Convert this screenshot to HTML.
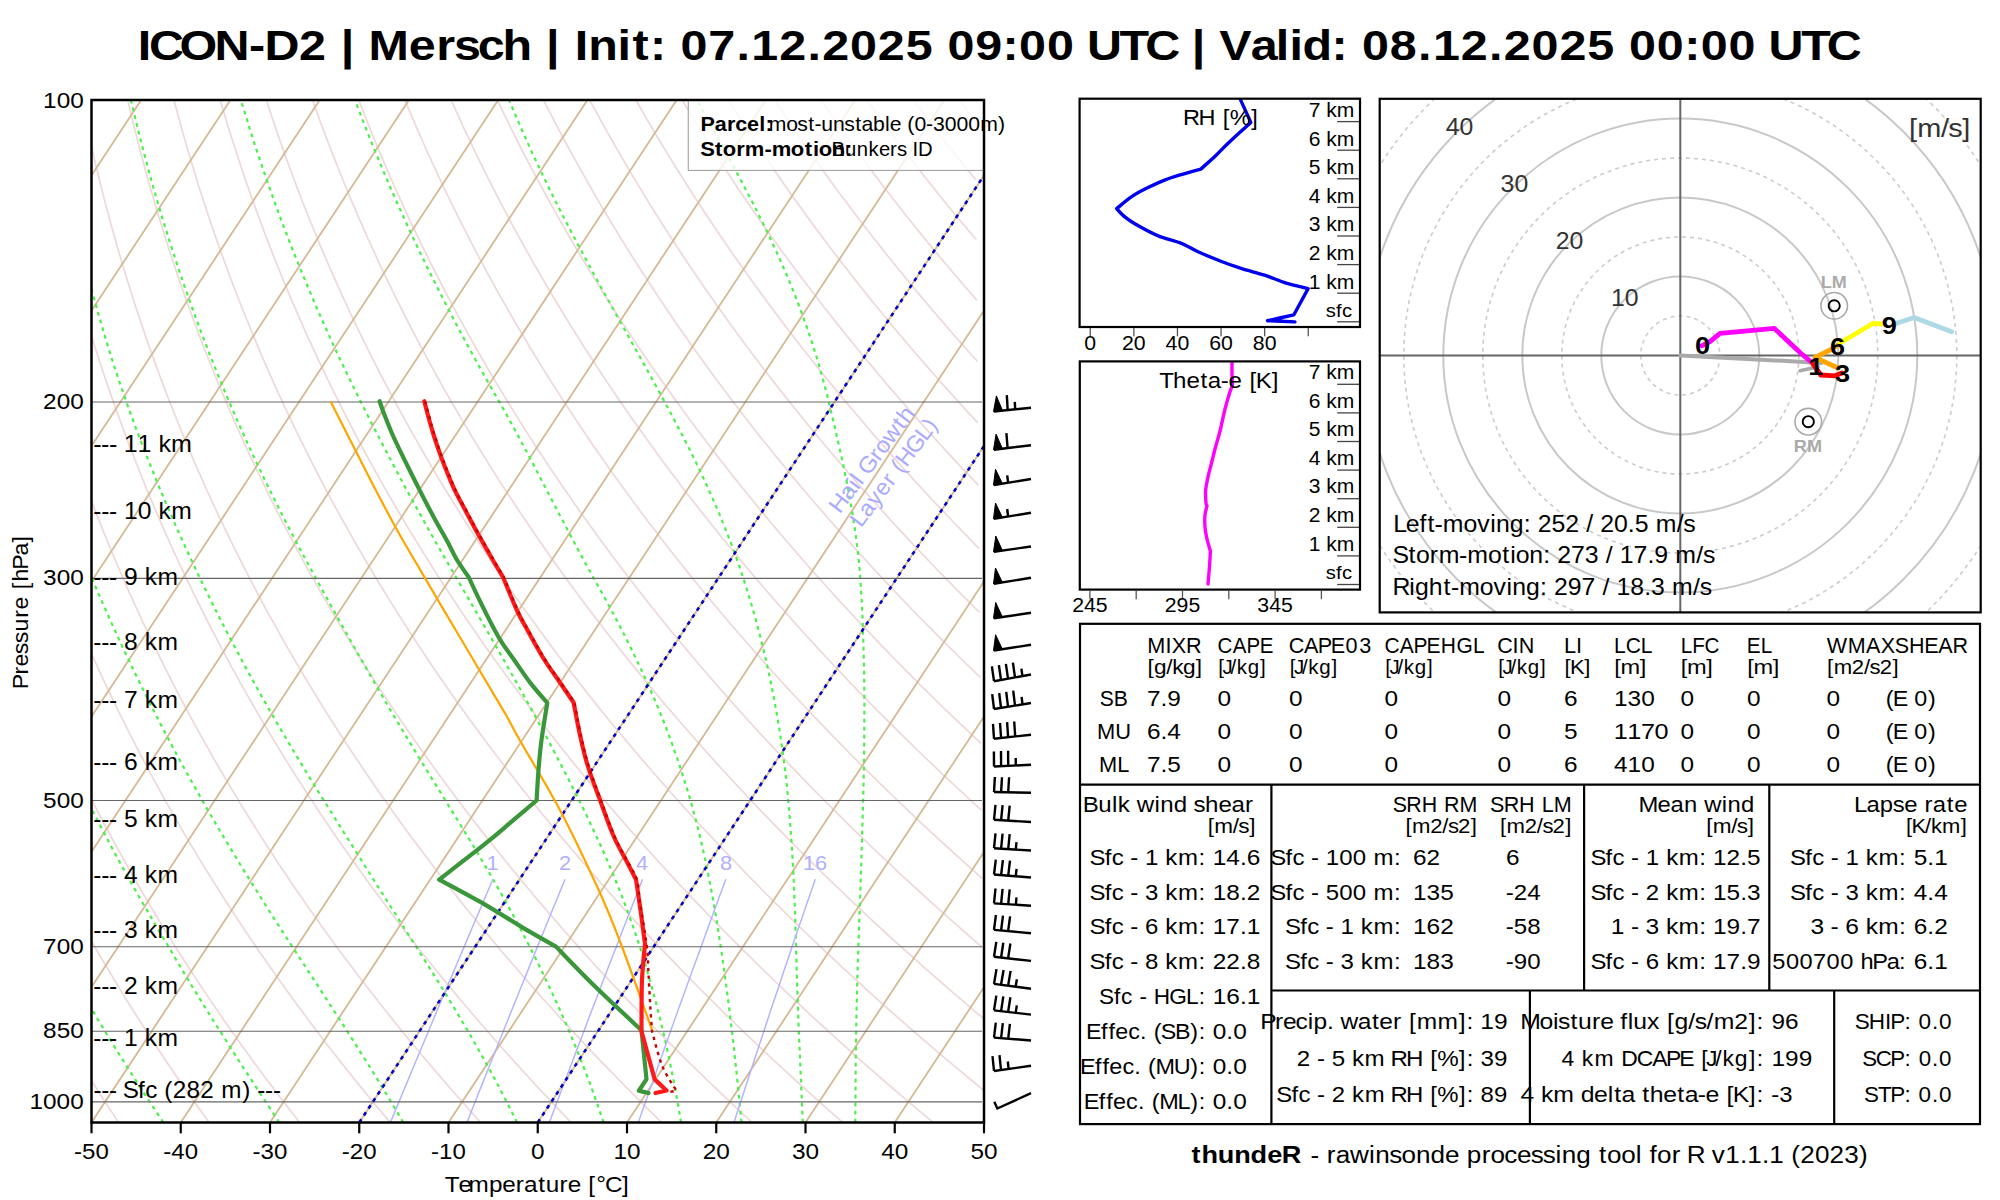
<!DOCTYPE html>
<html><head><meta charset="utf-8"><title>thundeR sounding</title><style>
html,body{margin:0;padding:0;background:#fff;overflow:hidden;}
svg{display:block;}
text{font-family:"Liberation Sans",sans-serif;}
</style></head><body>
<svg width="2000" height="1200" viewBox="0 0 2000 1200">
<rect width="2000" height="1200" fill="#fff"/>
<defs><clipPath id="cp"><rect x="91.5" y="100.0" width="892.5" height="1022.5"/></clipPath></defs>
<g clip-path="url(#cp)"><polyline points="118.7,1122.5 113.0,1113.9 107.3,1105.3 101.7,1096.7 96.2,1088.1 90.8,1079.5 85.4,1070.9 80.0,1062.4 74.8,1053.8 69.5,1045.2 64.4,1036.6 59.3,1028.0 54.3,1019.4 49.3,1010.8 44.4,1002.2 39.6,993.6 34.8,985.0 30.0,976.4 25.4,967.8 20.8,959.2 16.2,950.7 11.7,942.1 7.3,933.5 2.9,924.9 -1.4,916.3 -5.7,907.7 -9.9,899.1 -14.1,890.5 -18.2,881.9 -22.2,873.3 -26.2,864.7 -30.2,856.1 -34.1,847.5 -37.9,838.9 -41.7,830.4 -45.4,821.8 -49.1,813.2 -52.7,804.6 -56.2,796.0 -59.8,787.4 -63.2,778.8 -66.6,770.2 -70.0,761.6 -73.3,753.0 -76.6,744.4 -79.8,735.8 -82.9,727.2 -86.0,718.7 -89.1,710.1 -92.1,701.5 -95.1,692.9 -98.0,684.3 -100.8,675.7 -103.6,667.1 -106.4,658.5 -109.1,649.9 -111.8,641.3 -114.4,632.7 -117.0,624.1 -119.5,615.5 -122.0,607.0 -124.5,598.4 -126.9,589.8 -129.2,581.2 -131.5,572.6 -133.8,564.0 -136.0,555.4 -138.2,546.8 -140.3,538.2 -142.4,529.6 -144.4,521.0 -146.4,512.4 -148.4,503.8 -150.3,495.3 -152.1,486.7 -154.0,478.1 -155.7,469.5 -157.5,460.9 -159.2,452.3 -160.8,443.7 -162.5,435.1 -164.0,426.5 -165.6,417.9 -167.1,409.3 -168.5,400.7 -169.9,392.1 -171.3,383.6 -172.6,375.0 -173.9,366.4 -175.2,357.8 -176.4,349.2 -177.6,340.6 -178.7,332.0 -179.8,323.4 -180.9,314.8 -181.9,306.2 -182.9,297.6 -183.8,289.0 -184.7,280.4 -185.6,271.8 -186.4,263.3 -187.2,254.7 -188.0,246.1 -188.7,237.5 -189.4,228.9 -190.1,220.3 -190.7,211.7 -191.3,203.1 -191.8,194.5 -192.3,185.9 -192.8,177.3 -193.3,168.7 -193.7,160.1 -194.1,151.6 -194.4,143.0 -194.7,134.4 -195.0,125.8 -195.2,117.2 -195.4,108.6 -195.6,100.0" fill="none" stroke="#EED8D8" stroke-width="1.7"/>
<polyline points="209.2,1122.5 203.0,1113.9 196.8,1105.3 190.7,1096.7 184.7,1088.1 178.7,1079.5 172.8,1070.9 167.0,1062.4 161.3,1053.8 155.6,1045.2 149.9,1036.6 144.4,1028.0 138.8,1019.4 133.4,1010.8 128.0,1002.2 122.7,993.6 117.4,985.0 112.3,976.4 107.1,967.8 102.0,959.2 97.0,950.7 92.1,942.1 87.2,933.5 82.4,924.9 77.6,916.3 72.9,907.7 68.2,899.1 63.6,890.5 59.1,881.9 54.6,873.3 50.2,864.7 45.8,856.1 41.5,847.5 37.2,838.9 33.0,830.4 28.9,821.8 24.8,813.2 20.8,804.6 16.8,796.0 12.8,787.4 9.0,778.8 5.2,770.2 1.4,761.6 -2.3,753.0 -6.0,744.4 -9.6,735.8 -13.1,727.2 -16.6,718.7 -20.1,710.1 -23.5,701.5 -26.8,692.9 -30.1,684.3 -33.4,675.7 -36.6,667.1 -39.7,658.5 -42.8,649.9 -45.9,641.3 -48.9,632.7 -51.8,624.1 -54.7,615.5 -57.6,607.0 -60.4,598.4 -63.1,589.8 -65.8,581.2 -68.5,572.6 -71.1,564.0 -73.7,555.4 -76.2,546.8 -78.7,538.2 -81.1,529.6 -83.5,521.0 -85.8,512.4 -88.1,503.8 -90.4,495.3 -92.6,486.7 -94.7,478.1 -96.8,469.5 -98.9,460.9 -100.9,452.3 -102.9,443.7 -104.9,435.1 -106.8,426.5 -108.6,417.9 -110.4,409.3 -112.2,400.7 -113.9,392.1 -115.6,383.6 -117.3,375.0 -118.9,366.4 -120.4,357.8 -122.0,349.2 -123.4,340.6 -124.9,332.0 -126.3,323.4 -127.7,314.8 -129.0,306.2 -130.3,297.6 -131.5,289.0 -132.7,280.4 -133.9,271.8 -135.0,263.3 -136.1,254.7 -137.1,246.1 -138.2,237.5 -139.1,228.9 -140.1,220.3 -141.0,211.7 -141.8,203.1 -142.7,194.5 -143.5,185.9 -144.2,177.3 -144.9,168.7 -145.6,160.1 -146.3,151.6 -146.9,143.0 -147.4,134.4 -148.0,125.8 -148.5,117.2 -149.0,108.6 -149.4,100.0" fill="none" stroke="#EED8D8" stroke-width="1.7"/>
<polyline points="299.7,1122.5 293.0,1113.9 286.3,1105.3 279.7,1096.7 273.2,1088.1 266.7,1079.5 260.3,1070.9 254.0,1062.4 247.8,1053.8 241.6,1045.2 235.5,1036.6 229.4,1028.0 223.4,1019.4 217.5,1010.8 211.6,1002.2 205.9,993.6 200.1,985.0 194.5,976.4 188.9,967.8 183.3,959.2 177.9,950.7 172.5,942.1 167.1,933.5 161.8,924.9 156.6,916.3 151.4,907.7 146.3,899.1 141.3,890.5 136.3,881.9 131.4,873.3 126.6,864.7 121.8,856.1 117.0,847.5 112.3,838.9 107.7,830.4 103.1,821.8 98.6,813.2 94.2,804.6 89.8,796.0 85.4,787.4 81.2,778.8 76.9,770.2 72.8,761.6 68.7,753.0 64.6,744.4 60.6,735.8 56.7,727.2 52.8,718.7 48.9,710.1 45.1,701.5 41.4,692.9 37.7,684.3 34.1,675.7 30.5,667.1 27.0,658.5 23.5,649.9 20.1,641.3 16.7,632.7 13.4,624.1 10.1,615.5 6.9,607.0 3.8,598.4 0.6,589.8 -2.4,581.2 -5.4,572.6 -8.4,564.0 -11.3,555.4 -14.2,546.8 -17.0,538.2 -19.8,529.6 -22.5,521.0 -25.2,512.4 -27.9,503.8 -30.4,495.3 -33.0,486.7 -35.5,478.1 -37.9,469.5 -40.3,460.9 -42.7,452.3 -45.0,443.7 -47.3,435.1 -49.5,426.5 -51.7,417.9 -53.8,409.3 -55.9,400.7 -58.0,392.1 -60.0,383.6 -61.9,375.0 -63.8,366.4 -65.7,357.8 -67.5,349.2 -69.3,340.6 -71.1,332.0 -72.8,323.4 -74.4,314.8 -76.1,306.2 -77.6,297.6 -79.2,289.0 -80.7,280.4 -82.1,271.8 -83.6,263.3 -84.9,254.7 -86.3,246.1 -87.6,237.5 -88.9,228.9 -90.1,220.3 -91.3,211.7 -92.4,203.1 -93.5,194.5 -94.6,185.9 -95.6,177.3 -96.6,168.7 -97.6,160.1 -98.5,151.6 -99.4,143.0 -100.2,134.4 -101.0,125.8 -101.8,117.2 -102.5,108.6 -103.2,100.0" fill="none" stroke="#EED8D8" stroke-width="1.7"/>
<polyline points="390.2,1122.5 383.0,1113.9 375.8,1105.3 368.7,1096.7 361.7,1088.1 354.7,1079.5 347.8,1070.9 341.0,1062.4 334.3,1053.8 327.6,1045.2 321.0,1036.6 314.5,1028.0 308.0,1019.4 301.6,1010.8 295.3,1002.2 289.0,993.6 282.8,985.0 276.7,976.4 270.6,967.8 264.6,959.2 258.7,950.7 252.8,942.1 247.0,933.5 241.3,924.9 235.6,916.3 230.0,907.7 224.5,899.1 219.0,890.5 213.6,881.9 208.2,873.3 202.9,864.7 197.7,856.1 192.5,847.5 187.4,838.9 182.4,830.4 177.4,821.8 172.5,813.2 167.6,804.6 162.8,796.0 158.1,787.4 153.4,778.8 148.7,770.2 144.2,761.6 139.6,753.0 135.2,744.4 130.8,735.8 126.4,727.2 122.2,718.7 117.9,710.1 113.7,701.5 109.6,692.9 105.6,684.3 101.5,675.7 97.6,667.1 93.7,658.5 89.8,649.9 86.0,641.3 82.3,632.7 78.6,624.1 75.0,615.5 71.4,607.0 67.9,598.4 64.4,589.8 61.0,581.2 57.6,572.6 54.3,564.0 51.0,555.4 47.8,546.8 44.6,538.2 41.5,529.6 38.4,521.0 35.4,512.4 32.4,503.8 29.5,495.3 26.6,486.7 23.8,478.1 21.0,469.5 18.2,460.9 15.5,452.3 12.9,443.7 10.3,435.1 7.8,426.5 5.3,417.9 2.8,409.3 0.4,400.7 -2.0,392.1 -4.3,383.6 -6.6,375.0 -8.8,366.4 -11.0,357.8 -13.1,349.2 -15.2,340.6 -17.3,332.0 -19.3,323.4 -21.2,314.8 -23.2,306.2 -25.0,297.6 -26.9,289.0 -28.7,280.4 -30.4,271.8 -32.1,263.3 -33.8,254.7 -35.4,246.1 -37.0,237.5 -38.6,228.9 -40.1,220.3 -41.5,211.7 -43.0,203.1 -44.3,194.5 -45.7,185.9 -47.0,177.3 -48.3,168.7 -49.5,160.1 -50.7,151.6 -51.8,143.0 -52.9,134.4 -54.0,125.8 -55.1,117.2 -56.1,108.6 -57.0,100.0" fill="none" stroke="#EED8D8" stroke-width="1.7"/>
<polyline points="480.7,1122.5 472.9,1113.9 465.3,1105.3 457.7,1096.7 450.1,1088.1 442.7,1079.5 435.3,1070.9 428.0,1062.4 420.8,1053.8 413.6,1045.2 406.5,1036.6 399.5,1028.0 392.6,1019.4 385.7,1010.8 378.9,1002.2 372.2,993.6 365.5,985.0 358.9,976.4 352.4,967.8 345.9,959.2 339.5,950.7 333.2,942.1 327.0,933.5 320.8,924.9 314.7,916.3 308.6,907.7 302.6,899.1 296.7,890.5 290.8,881.9 285.1,873.3 279.3,864.7 273.7,856.1 268.1,847.5 262.5,838.9 257.1,830.4 251.7,821.8 246.3,813.2 241.0,804.6 235.8,796.0 230.7,787.4 225.6,778.8 220.5,770.2 215.5,761.6 210.6,753.0 205.8,744.4 201.0,735.8 196.2,727.2 191.5,718.7 186.9,710.1 182.4,701.5 177.8,692.9 173.4,684.3 169.0,675.7 164.7,667.1 160.4,658.5 156.2,649.9 152.0,641.3 147.9,632.7 143.8,624.1 139.8,615.5 135.9,607.0 132.0,598.4 128.1,589.8 124.4,581.2 120.6,572.6 116.9,564.0 113.3,555.4 109.7,546.8 106.2,538.2 102.7,529.6 99.3,521.0 96.0,512.4 92.6,503.8 89.4,495.3 86.2,486.7 83.0,478.1 79.9,469.5 76.8,460.9 73.8,452.3 70.8,443.7 67.9,435.1 65.0,426.5 62.2,417.9 59.4,409.3 56.7,400.7 54.0,392.1 51.4,383.6 48.8,375.0 46.3,366.4 43.8,357.8 41.3,349.2 38.9,340.6 36.5,332.0 34.2,323.4 32.0,314.8 29.7,306.2 27.6,297.6 25.4,289.0 23.3,280.4 21.3,271.8 19.3,263.3 17.3,254.7 15.4,246.1 13.5,237.5 11.7,228.9 9.9,220.3 8.2,211.7 6.5,203.1 4.8,194.5 3.2,185.9 1.6,177.3 0.1,168.7 -1.4,160.1 -2.9,151.6 -4.3,143.0 -5.7,134.4 -7.0,125.8 -8.3,117.2 -9.6,108.6 -10.8,100.0" fill="none" stroke="#EED8D8" stroke-width="1.7"/>
<polyline points="571.2,1122.5 562.9,1113.9 554.8,1105.3 546.7,1096.7 538.6,1088.1 530.7,1079.5 522.8,1070.9 515.0,1062.4 507.3,1053.8 499.6,1045.2 492.1,1036.6 484.6,1028.0 477.1,1019.4 469.8,1010.8 462.5,1002.2 455.3,993.6 448.2,985.0 441.1,976.4 434.1,967.8 427.2,959.2 420.4,950.7 413.6,942.1 406.9,933.5 400.2,924.9 393.7,916.3 387.2,907.7 380.8,899.1 374.4,890.5 368.1,881.9 361.9,873.3 355.7,864.7 349.6,856.1 343.6,847.5 337.6,838.9 331.8,830.4 325.9,821.8 320.2,813.2 314.5,804.6 308.8,796.0 303.3,787.4 297.7,778.8 292.3,770.2 286.9,761.6 281.6,753.0 276.3,744.4 271.1,735.8 266.0,727.2 260.9,718.7 255.9,710.1 251.0,701.5 246.1,692.9 241.2,684.3 236.5,675.7 231.7,667.1 227.1,658.5 222.5,649.9 218.0,641.3 213.5,632.7 209.0,624.1 204.7,615.5 200.4,607.0 196.1,598.4 191.9,589.8 187.8,581.2 183.7,572.6 179.6,564.0 175.6,555.4 171.7,546.8 167.8,538.2 164.0,529.6 160.3,521.0 156.5,512.4 152.9,503.8 149.3,495.3 145.7,486.7 142.2,478.1 138.8,469.5 135.4,460.9 132.0,452.3 128.7,443.7 125.5,435.1 122.3,426.5 119.1,417.9 116.0,409.3 113.0,400.7 110.0,392.1 107.0,383.6 104.1,375.0 101.3,366.4 98.5,357.8 95.7,349.2 93.0,340.6 90.4,332.0 87.7,323.4 85.2,314.8 82.7,306.2 80.2,297.6 77.7,289.0 75.4,280.4 73.0,271.8 70.7,263.3 68.5,254.7 66.3,246.1 64.1,237.5 62.0,228.9 59.9,220.3 57.9,211.7 55.9,203.1 54.0,194.5 52.1,185.9 50.2,177.3 48.4,168.7 46.6,160.1 44.9,151.6 43.2,143.0 41.6,134.4 40.0,125.8 38.4,117.2 36.9,108.6 35.4,100.0" fill="none" stroke="#EED8D8" stroke-width="1.7"/>
<polyline points="661.7,1122.5 652.9,1113.9 644.2,1105.3 635.6,1096.7 627.1,1088.1 618.7,1079.5 610.3,1070.9 602.0,1062.4 593.8,1053.8 585.6,1045.2 577.6,1036.6 569.6,1028.0 561.7,1019.4 553.9,1010.8 546.1,1002.2 538.4,993.6 530.8,985.0 523.3,976.4 515.9,967.8 508.5,959.2 501.2,950.7 494.0,942.1 486.8,933.5 479.7,924.9 472.7,916.3 465.8,907.7 458.9,899.1 452.1,890.5 445.4,881.9 438.7,873.3 432.1,864.7 425.6,856.1 419.1,847.5 412.8,838.9 406.4,830.4 400.2,821.8 394.0,813.2 387.9,804.6 381.8,796.0 375.9,787.4 369.9,778.8 364.1,770.2 358.3,761.6 352.6,753.0 346.9,744.4 341.3,735.8 335.8,727.2 330.3,718.7 324.9,710.1 319.6,701.5 314.3,692.9 309.1,684.3 303.9,675.7 298.8,667.1 293.8,658.5 288.8,649.9 283.9,641.3 279.0,632.7 274.3,624.1 269.5,615.5 264.8,607.0 260.2,598.4 255.7,589.8 251.1,581.2 246.7,572.6 242.3,564.0 238.0,555.4 233.7,546.8 229.5,538.2 225.3,529.6 221.2,521.0 217.1,512.4 213.1,503.8 209.2,495.3 205.3,486.7 201.5,478.1 197.7,469.5 193.9,460.9 190.3,452.3 186.6,443.7 183.1,435.1 179.6,426.5 176.1,417.9 172.7,409.3 169.3,400.7 166.0,392.1 162.7,383.6 159.5,375.0 156.3,366.4 153.2,357.8 150.2,349.2 147.1,340.6 144.2,332.0 141.3,323.4 138.4,314.8 135.6,306.2 132.8,297.6 130.1,289.0 127.4,280.4 124.7,271.8 122.2,263.3 119.6,254.7 117.1,246.1 114.7,237.5 112.3,228.9 109.9,220.3 107.6,211.7 105.3,203.1 103.1,194.5 101.0,185.9 98.8,177.3 96.7,168.7 94.7,160.1 92.7,151.6 90.7,143.0 88.8,134.4 86.9,125.8 85.1,117.2 83.3,108.6 81.6,100.0" fill="none" stroke="#EED8D8" stroke-width="1.7"/>
<polyline points="752.2,1122.5 742.9,1113.9 733.7,1105.3 724.6,1096.7 715.6,1088.1 706.6,1079.5 697.8,1070.9 689.0,1062.4 680.3,1053.8 671.7,1045.2 663.1,1036.6 654.7,1028.0 646.3,1019.4 638.0,1010.8 629.7,1002.2 621.6,993.6 613.5,985.0 605.5,976.4 597.6,967.8 589.8,959.2 582.0,950.7 574.3,942.1 566.7,933.5 559.2,924.9 551.7,916.3 544.3,907.7 537.0,899.1 529.8,890.5 522.6,881.9 515.5,873.3 508.5,864.7 501.6,856.1 494.7,847.5 487.9,838.9 481.1,830.4 474.5,821.8 467.8,813.2 461.3,804.6 454.9,796.0 448.5,787.4 442.1,778.8 435.9,770.2 429.7,761.6 423.6,753.0 417.5,744.4 411.5,735.8 405.6,727.2 399.7,718.7 393.9,710.1 388.2,701.5 382.5,692.9 376.9,684.3 371.4,675.7 365.9,667.1 360.5,658.5 355.1,649.9 349.9,641.3 344.6,632.7 339.5,624.1 334.4,615.5 329.3,607.0 324.3,598.4 319.4,589.8 314.5,581.2 309.7,572.6 305.0,564.0 300.3,555.4 295.7,546.8 291.1,538.2 286.6,529.6 282.1,521.0 277.7,512.4 273.4,503.8 269.1,495.3 264.9,486.7 260.7,478.1 256.6,469.5 252.5,460.9 248.5,452.3 244.6,443.7 240.7,435.1 236.8,426.5 233.0,417.9 229.3,409.3 225.6,400.7 222.0,392.1 218.4,383.6 214.9,375.0 211.4,366.4 208.0,357.8 204.6,349.2 201.3,340.6 198.0,332.0 194.8,323.4 191.6,314.8 188.5,306.2 185.4,297.6 182.4,289.0 179.4,280.4 176.5,271.8 173.6,263.3 170.8,254.7 168.0,246.1 165.3,237.5 162.6,228.9 159.9,220.3 157.3,211.7 154.8,203.1 152.3,194.5 149.8,185.9 147.4,177.3 145.1,168.7 142.7,160.1 140.5,151.6 138.2,143.0 136.1,134.4 133.9,125.8 131.8,117.2 129.8,108.6 127.8,100.0" fill="none" stroke="#EED8D8" stroke-width="1.7"/>
<polyline points="842.7,1122.5 832.9,1113.9 823.2,1105.3 813.6,1096.7 804.1,1088.1 794.6,1079.5 785.3,1070.9 776.0,1062.4 766.8,1053.8 757.7,1045.2 748.6,1036.6 739.7,1028.0 730.8,1019.4 722.1,1010.8 713.4,1002.2 704.7,993.6 696.2,985.0 687.8,976.4 679.4,967.8 671.1,959.2 662.9,950.7 654.7,942.1 646.7,933.5 638.7,924.9 630.8,916.3 622.9,907.7 615.2,899.1 607.5,890.5 599.9,881.9 592.4,873.3 584.9,864.7 577.5,856.1 570.2,847.5 563.0,838.9 555.8,830.4 548.7,821.8 541.7,813.2 534.7,804.6 527.9,796.0 521.1,787.4 514.3,778.8 507.7,770.2 501.1,761.6 494.5,753.0 488.1,744.4 481.7,735.8 475.4,727.2 469.1,718.7 462.9,710.1 456.8,701.5 450.8,692.9 444.8,684.3 438.8,675.7 433.0,667.1 427.2,658.5 421.5,649.9 415.8,641.3 410.2,632.7 404.7,624.1 399.2,615.5 393.8,607.0 388.4,598.4 383.2,589.8 377.9,581.2 372.8,572.6 367.7,564.0 362.6,555.4 357.6,546.8 352.7,538.2 347.9,529.6 343.1,521.0 338.3,512.4 333.6,503.8 329.0,495.3 324.4,486.7 319.9,478.1 315.5,469.5 311.1,460.9 306.8,452.3 302.5,443.7 298.2,435.1 294.1,426.5 290.0,417.9 285.9,409.3 281.9,400.7 277.9,392.1 274.0,383.6 270.2,375.0 266.4,366.4 262.7,357.8 259.0,349.2 255.4,340.6 251.8,332.0 248.3,323.4 244.8,314.8 241.4,306.2 238.0,297.6 234.7,289.0 231.4,280.4 228.2,271.8 225.0,263.3 221.9,254.7 218.8,246.1 215.8,237.5 212.8,228.9 209.9,220.3 207.1,211.7 204.2,203.1 201.4,194.5 198.7,185.9 196.0,177.3 193.4,168.7 190.8,160.1 188.3,151.6 185.8,143.0 183.3,134.4 180.9,125.8 178.6,117.2 176.2,108.6 174.0,100.0" fill="none" stroke="#EED8D8" stroke-width="1.7"/>
<polyline points="933.2,1122.5 922.9,1113.9 912.7,1105.3 902.6,1096.7 892.5,1088.1 882.6,1079.5 872.7,1070.9 863.0,1062.4 853.3,1053.8 843.7,1045.2 834.2,1036.6 824.8,1028.0 815.4,1019.4 806.2,1010.8 797.0,1002.2 787.9,993.6 778.9,985.0 770.0,976.4 761.1,967.8 752.4,959.2 743.7,950.7 735.1,942.1 726.6,933.5 718.1,924.9 709.8,916.3 701.5,907.7 693.3,899.1 685.2,890.5 677.1,881.9 669.2,873.3 661.3,864.7 653.5,856.1 645.7,847.5 638.1,838.9 630.5,830.4 623.0,821.8 615.5,813.2 608.2,804.6 600.9,796.0 593.7,787.4 586.5,778.8 579.5,770.2 572.4,761.6 565.5,753.0 558.7,744.4 551.9,735.8 545.2,727.2 538.5,718.7 531.9,710.1 525.4,701.5 519.0,692.9 512.6,684.3 506.3,675.7 500.1,667.1 493.9,658.5 487.8,649.9 481.8,641.3 475.8,632.7 469.9,624.1 464.0,615.5 458.3,607.0 452.6,598.4 446.9,589.8 441.3,581.2 435.8,572.6 430.4,564.0 425.0,555.4 419.6,546.8 414.4,538.2 409.1,529.6 404.0,521.0 398.9,512.4 393.9,503.8 388.9,495.3 384.0,486.7 379.2,478.1 374.4,469.5 369.7,460.9 365.0,452.3 360.4,443.7 355.8,435.1 351.3,426.5 346.9,417.9 342.5,409.3 338.2,400.7 333.9,392.1 329.7,383.6 325.6,375.0 321.5,366.4 317.4,357.8 313.4,349.2 309.5,340.6 305.6,332.0 301.8,323.4 298.0,314.8 294.3,306.2 290.6,297.6 287.0,289.0 283.4,280.4 279.9,271.8 276.5,263.3 273.1,254.7 269.7,246.1 266.4,237.5 263.1,228.9 259.9,220.3 256.8,211.7 253.7,203.1 250.6,194.5 247.6,185.9 244.6,177.3 241.7,168.7 238.9,160.1 236.1,151.6 233.3,143.0 230.6,134.4 227.9,125.8 225.3,117.2 222.7,108.6 220.2,100.0" fill="none" stroke="#EED8D8" stroke-width="1.7"/>
<polyline points="984.0,1090.6 981.0,1088.1 970.6,1079.5 960.2,1070.9 950.0,1062.4 939.8,1053.8 929.7,1045.2 919.7,1036.6 909.8,1028.0 900.0,1019.4 890.2,1010.8 880.6,1002.2 871.0,993.6 861.6,985.0 852.2,976.4 842.9,967.8 833.7,959.2 824.5,950.7 815.5,942.1 806.5,933.5 797.6,924.9 788.8,916.3 780.1,907.7 771.4,899.1 762.9,890.5 754.4,881.9 746.0,873.3 737.7,864.7 729.4,856.1 721.3,847.5 713.2,838.9 705.2,830.4 697.2,821.8 689.4,813.2 681.6,804.6 673.9,796.0 666.3,787.4 658.7,778.8 651.2,770.2 643.8,761.6 636.5,753.0 629.2,744.4 622.1,735.8 614.9,727.2 607.9,718.7 600.9,710.1 594.0,701.5 587.2,692.9 580.5,684.3 573.8,675.7 567.1,667.1 560.6,658.5 554.1,649.9 547.7,641.3 541.4,632.7 535.1,624.1 528.9,615.5 522.7,607.0 516.7,598.4 510.7,589.8 504.7,581.2 498.8,572.6 493.0,564.0 487.3,555.4 481.6,546.8 476.0,538.2 470.4,529.6 464.9,521.0 459.5,512.4 454.1,503.8 448.8,495.3 443.6,486.7 438.4,478.1 433.3,469.5 428.2,460.9 423.2,452.3 418.3,443.7 413.4,435.1 408.6,426.5 403.8,417.9 399.1,409.3 394.5,400.7 389.9,392.1 385.4,383.6 380.9,375.0 376.5,366.4 372.1,357.8 367.8,349.2 363.6,340.6 359.4,332.0 355.3,323.4 351.2,314.8 347.2,306.2 343.2,297.6 339.3,289.0 335.4,280.4 331.6,271.8 327.9,263.3 324.2,254.7 320.5,246.1 317.0,237.5 313.4,228.9 309.9,220.3 306.5,211.7 303.1,203.1 299.8,194.5 296.5,185.9 293.2,177.3 290.1,168.7 286.9,160.1 283.8,151.6 280.8,143.0 277.8,134.4 274.9,125.8 272.0,117.2 269.2,108.6 266.4,100.0" fill="none" stroke="#EED8D8" stroke-width="1.7"/>
<polyline points="983.4,1018.4 974.3,1010.8 964.2,1002.2 954.2,993.6 944.2,985.0 934.4,976.4 924.6,967.8 914.9,959.2 905.4,950.7 895.8,942.1 886.4,933.5 877.1,924.9 867.8,916.3 858.7,907.7 849.6,899.1 840.6,890.5 831.7,881.9 822.8,873.3 814.1,864.7 805.4,856.1 796.8,847.5 788.3,838.9 779.9,830.4 771.5,821.8 763.2,813.2 755.0,804.6 746.9,796.0 738.9,787.4 730.9,778.8 723.0,770.2 715.2,761.6 707.5,753.0 699.8,744.4 692.2,735.8 684.7,727.2 677.3,718.7 669.9,710.1 662.6,701.5 655.4,692.9 648.3,684.3 641.2,675.7 634.2,667.1 627.3,658.5 620.4,649.9 613.7,641.3 606.9,632.7 600.3,624.1 593.7,615.5 587.2,607.0 580.8,598.4 574.4,589.8 568.1,581.2 561.9,572.6 555.7,564.0 549.6,555.4 543.6,546.8 537.6,538.2 531.7,529.6 525.9,521.0 520.1,512.4 514.4,503.8 508.7,495.3 503.2,486.7 497.7,478.1 492.2,469.5 486.8,460.9 481.5,452.3 476.2,443.7 471.0,435.1 465.9,426.5 460.8,417.9 455.8,409.3 450.8,400.7 445.9,392.1 441.1,383.6 436.3,375.0 431.5,366.4 426.9,357.8 422.3,349.2 417.7,340.6 413.2,332.0 408.8,323.4 404.4,314.8 400.1,306.2 395.8,297.6 391.6,289.0 387.5,280.4 383.4,271.8 379.3,263.3 375.3,254.7 371.4,246.1 367.5,237.5 363.7,228.9 359.9,220.3 356.2,211.7 352.5,203.1 348.9,194.5 345.4,185.9 341.9,177.3 338.4,168.7 335.0,160.1 331.6,151.6 328.3,143.0 325.1,134.4 321.9,125.8 318.7,117.2 315.6,108.6 312.6,100.0" fill="none" stroke="#EED8D8" stroke-width="1.7"/>
<polyline points="982.7,947.7 976.2,942.1 966.3,933.5 956.6,924.9 946.9,916.3 937.2,907.7 927.7,899.1 918.3,890.5 908.9,881.9 899.6,873.3 890.5,864.7 881.4,856.1 872.3,847.5 863.4,838.9 854.5,830.4 845.8,821.8 837.1,813.2 828.5,804.6 819.9,796.0 811.5,787.4 803.1,778.8 794.8,770.2 786.6,761.6 778.5,753.0 770.4,744.4 762.4,735.8 754.5,727.2 746.7,718.7 738.9,710.1 731.3,701.5 723.7,692.9 716.1,684.3 708.7,675.7 701.3,667.1 694.0,658.5 686.8,649.9 679.6,641.3 672.5,632.7 665.5,624.1 658.6,615.5 651.7,607.0 644.9,598.4 638.2,589.8 631.5,581.2 624.9,572.6 618.4,564.0 611.9,555.4 605.6,546.8 599.2,538.2 593.0,529.6 586.8,521.0 580.7,512.4 574.6,503.8 568.7,495.3 562.7,486.7 556.9,478.1 551.1,469.5 545.4,460.9 539.7,452.3 534.1,443.7 528.6,435.1 523.1,426.5 517.7,417.9 512.4,409.3 507.1,400.7 501.9,392.1 496.7,383.6 491.6,375.0 486.6,366.4 481.6,357.8 476.7,349.2 471.8,340.6 467.0,332.0 462.3,323.4 457.6,314.8 453.0,306.2 448.4,297.6 443.9,289.0 439.5,280.4 435.1,271.8 430.8,263.3 426.5,254.7 422.3,246.1 418.1,237.5 414.0,228.9 409.9,220.3 405.9,211.7 402.0,203.1 398.1,194.5 394.2,185.9 390.5,177.3 386.7,168.7 383.1,160.1 379.4,151.6 375.9,143.0 372.3,134.4 368.9,125.8 365.4,117.2 362.1,108.6 358.8,100.0" fill="none" stroke="#EED8D8" stroke-width="1.7"/>
<polyline points="982.1,878.3 976.5,873.3 966.8,864.7 957.3,856.1 947.9,847.5 938.5,838.9 929.2,830.4 920.0,821.8 910.9,813.2 901.9,804.6 892.9,796.0 884.1,787.4 875.3,778.8 866.6,770.2 858.0,761.6 849.4,753.0 841.0,744.4 832.6,735.8 824.3,727.2 816.1,718.7 807.9,710.1 799.9,701.5 791.9,692.9 784.0,684.3 776.1,675.7 768.4,667.1 760.7,658.5 753.1,649.9 745.6,641.3 738.1,632.7 730.7,624.1 723.4,615.5 716.2,607.0 709.0,598.4 701.9,589.8 694.9,581.2 688.0,572.6 681.1,564.0 674.3,555.4 667.5,546.8 660.9,538.2 654.3,529.6 647.7,521.0 641.3,512.4 634.9,503.8 628.6,495.3 622.3,486.7 616.1,478.1 610.0,469.5 604.0,460.9 598.0,452.3 592.0,443.7 586.2,435.1 580.4,426.5 574.7,417.9 569.0,409.3 563.4,400.7 557.9,392.1 552.4,383.6 547.0,375.0 541.6,366.4 536.3,357.8 531.1,349.2 526.0,340.6 520.9,332.0 515.8,323.4 510.8,314.8 505.9,306.2 501.0,297.6 496.2,289.0 491.5,280.4 486.8,271.8 482.2,263.3 477.6,254.7 473.1,246.1 468.7,237.5 464.3,228.9 459.9,220.3 455.6,211.7 451.4,203.1 447.2,194.5 443.1,185.9 439.1,177.3 435.1,168.7 431.1,160.1 427.2,151.6 423.4,143.0 419.6,134.4 415.8,125.8 412.2,117.2 408.5,108.6 405.0,100.0" fill="none" stroke="#EED8D8" stroke-width="1.7"/>
<polyline points="981.5,810.2 975.3,804.6 966.0,796.0 956.7,787.4 947.5,778.8 938.4,770.2 929.4,761.6 920.4,753.0 911.6,744.4 902.8,735.8 894.1,727.2 885.5,718.7 876.9,710.1 868.5,701.5 860.1,692.9 851.8,684.3 843.6,675.7 835.5,667.1 827.4,658.5 819.4,649.9 811.5,641.3 803.7,632.7 795.9,624.1 788.3,615.5 780.7,607.0 773.1,598.4 765.7,589.8 758.3,581.2 751.0,572.6 743.8,564.0 736.6,555.4 729.5,546.8 722.5,538.2 715.6,529.6 708.7,521.0 701.9,512.4 695.1,503.8 688.5,495.3 681.9,486.7 675.4,478.1 668.9,469.5 662.5,460.9 656.2,452.3 650.0,443.7 643.8,435.1 637.7,426.5 631.6,417.9 625.6,409.3 619.7,400.7 613.8,392.1 608.1,383.6 602.3,375.0 596.7,366.4 591.1,357.8 585.5,349.2 580.1,340.6 574.7,332.0 569.3,323.4 564.0,314.8 558.8,306.2 553.7,297.6 548.6,289.0 543.5,280.4 538.5,271.8 533.6,263.3 528.8,254.7 524.0,246.1 519.2,237.5 514.5,228.9 509.9,220.3 505.4,211.7 500.9,203.1 496.4,194.5 492.0,185.9 487.7,177.3 483.4,168.7 479.2,160.1 475.0,151.6 470.9,143.0 466.8,134.4 462.8,125.8 458.9,117.2 455.0,108.6 451.2,100.0" fill="none" stroke="#EED8D8" stroke-width="1.7"/>
<polyline points="980.9,743.3 973.0,735.8 963.9,727.2 954.9,718.7 945.9,710.1 937.1,701.5 928.3,692.9 919.7,684.3 911.1,675.7 902.5,667.1 894.1,658.5 885.8,649.9 877.5,641.3 869.3,632.7 861.1,624.1 853.1,615.5 845.1,607.0 837.2,598.4 829.4,589.8 821.7,581.2 814.0,572.6 806.4,564.0 798.9,555.4 791.5,546.8 784.1,538.2 776.8,529.6 769.6,521.0 762.5,512.4 755.4,503.8 748.4,495.3 741.5,486.7 734.6,478.1 727.8,469.5 721.1,460.9 714.4,452.3 707.9,443.7 701.4,435.1 694.9,426.5 688.5,417.9 682.2,409.3 676.0,400.7 669.8,392.1 663.7,383.6 657.7,375.0 651.7,366.4 645.8,357.8 640.0,349.2 634.2,340.6 628.5,332.0 622.8,323.4 617.2,314.8 611.7,306.2 606.3,297.6 600.9,289.0 595.5,280.4 590.3,271.8 585.1,263.3 579.9,254.7 574.8,246.1 569.8,237.5 564.8,228.9 559.9,220.3 555.1,211.7 550.3,203.1 545.6,194.5 540.9,185.9 536.3,177.3 531.7,168.7 527.2,160.1 522.8,151.6 518.4,143.0 514.1,134.4 509.8,125.8 505.6,117.2 501.4,108.6 497.3,100.0" fill="none" stroke="#EED8D8" stroke-width="1.7"/>
<polyline points="980.3,677.4 978.5,675.7 969.6,667.1 960.8,658.5 952.1,649.9 943.4,641.3 934.9,632.7 926.4,624.1 917.9,615.5 909.6,607.0 901.4,598.4 893.2,589.8 885.1,581.2 877.1,572.6 869.1,564.0 861.3,555.4 853.5,546.8 845.8,538.2 838.1,529.6 830.5,521.0 823.1,512.4 815.6,503.8 808.3,495.3 801.0,486.7 793.8,478.1 786.7,469.5 779.7,460.9 772.7,452.3 765.8,443.7 758.9,435.1 752.2,426.5 745.5,417.9 738.9,409.3 732.3,400.7 725.8,392.1 719.4,383.6 713.0,375.0 706.8,366.4 700.5,357.8 694.4,349.2 688.3,340.6 682.3,332.0 676.3,323.4 670.4,314.8 664.6,306.2 658.9,297.6 653.2,289.0 647.6,280.4 642.0,271.8 636.5,263.3 631.1,254.7 625.7,246.1 620.4,237.5 615.1,228.9 609.9,220.3 604.8,211.7 599.7,203.1 594.7,194.5 589.8,185.9 584.9,177.3 580.1,168.7 575.3,160.1 570.6,151.6 565.9,143.0 561.3,134.4 556.8,125.8 552.3,117.2 547.9,108.6 543.5,100.0" fill="none" stroke="#EED8D8" stroke-width="1.7"/>
<polyline points="979.7,612.5 974.1,607.0 965.5,598.4 956.9,589.8 948.5,581.2 940.1,572.6 931.8,564.0 923.6,555.4 915.4,546.8 907.4,538.2 899.4,529.6 891.5,521.0 883.7,512.4 875.9,503.8 868.2,495.3 860.6,486.7 853.1,478.1 845.6,469.5 838.2,460.9 830.9,452.3 823.7,443.7 816.5,435.1 809.4,426.5 802.4,417.9 795.5,409.3 788.6,400.7 781.8,392.1 775.1,383.6 768.4,375.0 761.8,366.4 755.3,357.8 748.8,349.2 742.4,340.6 736.1,332.0 729.8,323.4 723.7,314.8 717.5,306.2 711.5,297.6 705.5,289.0 699.6,280.4 693.7,271.8 687.9,263.3 682.2,254.7 676.5,246.1 670.9,237.5 665.4,228.9 659.9,220.3 654.5,211.7 649.2,203.1 643.9,194.5 638.7,185.9 633.5,177.3 628.4,168.7 623.4,160.1 618.4,151.6 613.5,143.0 608.6,134.4 603.8,125.8 599.0,117.2 594.4,108.6 589.7,100.0" fill="none" stroke="#EED8D8" stroke-width="1.7"/>
<polyline points="979.1,548.5 977.4,546.8 969.0,538.2 960.7,529.6 952.4,521.0 944.2,512.4 936.1,503.8 928.1,495.3 920.2,486.7 912.3,478.1 904.5,469.5 896.8,460.9 889.2,452.3 881.6,443.7 874.1,435.1 866.7,426.5 859.4,417.9 852.1,409.3 844.9,400.7 837.8,392.1 830.7,383.6 823.7,375.0 816.8,366.4 810.0,357.8 803.2,349.2 796.5,340.6 789.9,332.0 783.4,323.4 776.9,314.8 770.4,306.2 764.1,297.6 757.8,289.0 751.6,280.4 745.4,271.8 739.4,263.3 733.3,254.7 727.4,246.1 721.5,237.5 715.7,228.9 709.9,220.3 704.2,211.7 698.6,203.1 693.0,194.5 687.5,185.9 682.1,177.3 676.7,168.7 671.4,160.1 666.2,151.6 661.0,143.0 655.8,134.4 650.8,125.8 645.8,117.2 640.8,108.6 635.9,100.0" fill="none" stroke="#EED8D8" stroke-width="1.7"/>
<polyline points="978.6,485.4 971.6,478.1 963.4,469.5 955.4,460.9 947.4,452.3 939.5,443.7 931.7,435.1 924.0,426.5 916.3,417.9 908.7,409.3 901.2,400.7 893.8,392.1 886.4,383.6 879.1,375.0 871.9,366.4 864.7,357.8 857.7,349.2 850.7,340.6 843.7,332.0 836.9,323.4 830.1,314.8 823.3,306.2 816.7,297.6 810.1,289.0 803.6,280.4 797.2,271.8 790.8,263.3 784.5,254.7 778.2,246.1 772.1,237.5 766.0,228.9 759.9,220.3 753.9,211.7 748.0,203.1 742.2,194.5 736.4,185.9 730.7,177.3 725.1,168.7 719.5,160.1 714.0,151.6 708.5,143.0 703.1,134.4 697.8,125.8 692.5,117.2 687.3,108.6 682.1,100.0" fill="none" stroke="#EED8D8" stroke-width="1.7"/>
<polyline points="978.0,423.0 973.2,417.9 965.3,409.3 957.5,400.7 949.7,392.1 942.1,383.6 934.5,375.0 926.9,366.4 919.5,357.8 912.1,349.2 904.8,340.6 897.5,332.0 890.4,323.4 883.3,314.8 876.3,306.2 869.3,297.6 862.4,289.0 855.6,280.4 848.9,271.8 842.2,263.3 835.6,254.7 829.1,246.1 822.6,237.5 816.2,228.9 809.9,220.3 803.7,211.7 797.5,203.1 791.4,194.5 785.3,185.9 779.3,177.3 773.4,168.7 767.5,160.1 761.7,151.6 756.0,143.0 750.3,134.4 744.7,125.8 739.2,117.2 733.7,108.6 728.3,100.0" fill="none" stroke="#EED8D8" stroke-width="1.7"/>
<polyline points="977.5,361.4 974.2,357.8 966.5,349.2 958.9,340.6 951.3,332.0 943.9,323.4 936.5,314.8 929.2,306.2 921.9,297.6 914.7,289.0 907.6,280.4 900.6,271.8 893.7,263.3 886.8,254.7 880.0,246.1 873.2,237.5 866.5,228.9 859.9,220.3 853.4,211.7 846.9,203.1 840.5,194.5 834.2,185.9 827.9,177.3 821.7,168.7 815.6,160.1 809.5,151.6 803.5,143.0 797.6,134.4 791.7,125.8 785.9,117.2 780.2,108.6 774.5,100.0" fill="none" stroke="#EED8D8" stroke-width="1.7"/>
<polyline points="976.9,300.3 974.5,297.6 967.1,289.0 959.7,280.4 952.3,271.8 945.1,263.3 937.9,254.7 930.8,246.1 923.8,237.5 916.8,228.9 909.9,220.3 903.1,211.7 896.4,203.1 889.7,194.5 883.1,185.9 876.5,177.3 870.1,168.7 863.7,160.1 857.3,151.6 851.1,143.0 844.9,134.4 838.7,125.8 832.7,117.2 826.7,108.6 820.7,100.0" fill="none" stroke="#EED8D8" stroke-width="1.7"/>
<polyline points="976.4,239.8 974.3,237.5 967.1,228.9 959.9,220.3 952.8,211.7 945.8,203.1 938.8,194.5 932.0,185.9 925.1,177.3 918.4,168.7 911.7,160.1 905.1,151.6 898.6,143.0 892.1,134.4 885.7,125.8 879.4,117.2 873.1,108.6 866.9,100.0" fill="none" stroke="#EED8D8" stroke-width="1.7"/>
<polyline points="975.8,179.8 973.7,177.3 966.7,168.7 959.8,160.1 952.9,151.6 946.1,143.0 939.4,134.4 932.7,125.8 926.1,117.2 919.6,108.6 913.1,100.0" fill="none" stroke="#EED8D8" stroke-width="1.7"/>
<polyline points="975.3,120.3 972.8,117.2 966.0,108.6 959.3,100.0" fill="none" stroke="#EED8D8" stroke-width="1.7"/>
<line x1="-890.25" y1="1122.5" x2="-215.81" y2="100.0" stroke="#D5B994" stroke-width="1.8"/>
<line x1="-801" y1="1122.5" x2="-126.56" y2="100.0" stroke="#D5B994" stroke-width="1.8"/>
<line x1="-711.75" y1="1122.5" x2="-37.31" y2="100.0" stroke="#D5B994" stroke-width="1.8"/>
<line x1="-622.5" y1="1122.5" x2="51.94" y2="100.0" stroke="#D5B994" stroke-width="1.8"/>
<line x1="-533.25" y1="1122.5" x2="141.19" y2="100.0" stroke="#D5B994" stroke-width="1.8"/>
<line x1="-444" y1="1122.5" x2="230.44" y2="100.0" stroke="#D5B994" stroke-width="1.8"/>
<line x1="-354.75" y1="1122.5" x2="319.69" y2="100.0" stroke="#D5B994" stroke-width="1.8"/>
<line x1="-265.5" y1="1122.5" x2="408.94" y2="100.0" stroke="#D5B994" stroke-width="1.8"/>
<line x1="-176.25" y1="1122.5" x2="498.19" y2="100.0" stroke="#D5B994" stroke-width="1.8"/>
<line x1="-87" y1="1122.5" x2="587.44" y2="100.0" stroke="#D5B994" stroke-width="1.8"/>
<line x1="2.25" y1="1122.5" x2="676.69" y2="100.0" stroke="#D5B994" stroke-width="1.8"/>
<line x1="91.5" y1="1122.5" x2="765.94" y2="100.0" stroke="#D5B994" stroke-width="1.8"/>
<line x1="180.75" y1="1122.5" x2="855.19" y2="100.0" stroke="#D5B994" stroke-width="1.8"/>
<line x1="270" y1="1122.5" x2="944.44" y2="100.0" stroke="#D5B994" stroke-width="1.8"/>
<line x1="359.25" y1="1122.5" x2="1033.69" y2="100.0" stroke="#D5B994" stroke-width="1.8"/>
<line x1="448.5" y1="1122.5" x2="1122.94" y2="100.0" stroke="#D5B994" stroke-width="1.8"/>
<line x1="537.75" y1="1122.5" x2="1212.19" y2="100.0" stroke="#D5B994" stroke-width="1.8"/>
<line x1="627" y1="1122.5" x2="1301.44" y2="100.0" stroke="#D5B994" stroke-width="1.8"/>
<line x1="716.25" y1="1122.5" x2="1390.69" y2="100.0" stroke="#D5B994" stroke-width="1.8"/>
<line x1="805.5" y1="1122.5" x2="1479.94" y2="100.0" stroke="#D5B994" stroke-width="1.8"/>
<line x1="894.75" y1="1122.5" x2="1569.19" y2="100.0" stroke="#D5B994" stroke-width="1.8"/>
<line x1="984" y1="1122.5" x2="1658.44" y2="100.0" stroke="#D5B994" stroke-width="1.8"/>
<polyline points="163.4,1122.5 151.9,1105.2 140.6,1087.8 129.4,1070.5 118.5,1053.2 107.8,1035.8 97.3,1018.5 87.0,1001.2 76.9,983.9 67.1,966.5 57.5,949.2 48.1,931.9 38.9,914.5 30.0,897.2 21.3,879.9 12.8,862.5 4.6,845.2 -3.5,827.9 -11.3,810.6 -18.9,793.2 -26.3,775.9 -33.4,758.6 -40.4,741.2 -47.2,723.9 -53.7,706.6 -60.1,689.2 -66.2,671.9 -72.2,654.6 -77.9,637.2 -83.5,619.9 -88.8,602.6 -94.0,585.3 -99.0,567.9 -103.8,550.6 -108.4,533.3 -112.9,515.9 -117.1,498.6 -121.2,481.3 -125.1,463.9 -128.8,446.6 -132.4,429.3 -135.8,411.9 -139.0,394.6 -142.1,377.3 -145.0,360.0 -147.7,342.6 -150.3,325.3 -152.7,308.0 -154.9,290.6 -157.0,273.3 -159.0,256.0 -160.8,238.6 -162.4,221.3 -163.9,204.0 -165.3,186.7 -166.5,169.3 -167.6,152.0 -168.5,134.7 -169.3,117.3 -169.9,100.0" fill="none" stroke="#4CF04C" stroke-width="2.2" stroke-dasharray="3.8 4.2"/>
<polyline points="279.3,1122.5 267.9,1105.2 256.5,1087.8 245.2,1070.5 234.0,1053.2 223.0,1035.8 212.0,1018.5 201.2,1001.2 190.6,983.9 180.2,966.5 170.0,949.2 159.6,931.9 149.4,914.5 139.3,897.2 129.5,879.9 119.9,862.5 110.5,845.2 101.4,827.9 92.4,810.6 83.7,793.2 75.3,775.9 67.0,758.6 59.0,741.2 51.1,723.9 43.5,706.6 36.1,689.2 29.0,671.9 22.0,654.6 15.2,637.2 8.7,619.9 2.3,602.6 -3.8,585.3 -9.8,567.9 -15.5,550.6 -21.1,533.3 -26.5,515.9 -31.6,498.6 -36.6,481.3 -41.4,463.9 -46.1,446.6 -50.5,429.3 -54.8,411.9 -58.9,394.6 -62.8,377.3 -66.5,360.0 -70.1,342.6 -73.5,325.3 -76.7,308.0 -79.7,290.6 -82.6,273.3 -85.4,256.0 -87.9,238.6 -90.4,221.3 -92.6,204.0 -94.7,186.7 -96.7,169.3 -98.5,152.0 -100.1,134.7 -101.6,117.3 -103.0,100.0" fill="none" stroke="#4CF04C" stroke-width="2.2" stroke-dasharray="3.8 4.2"/>
<polyline points="403.3,1122.5 393.1,1105.2 382.7,1087.8 372.0,1070.5 361.1,1053.2 350.1,1035.8 339.0,1018.5 327.8,1001.2 316.6,983.9 305.3,966.5 294.0,949.2 282.7,931.9 271.6,914.5 260.6,897.2 249.7,879.9 239.0,862.5 228.5,845.2 218.2,827.9 208.1,810.6 198.2,793.2 188.5,775.9 178.9,758.6 169.6,741.2 160.5,723.9 151.6,706.6 142.9,689.2 134.4,671.9 126.1,654.6 118.0,637.2 110.1,619.9 102.4,602.6 94.9,585.3 87.7,567.9 80.9,550.6 74.2,533.3 67.7,515.9 61.5,498.6 55.4,481.3 49.6,463.9 43.9,446.6 38.4,429.3 33.1,411.9 28.0,394.6 23.1,377.3 18.4,360.0 13.9,342.6 9.5,325.3 5.3,308.0 1.3,290.6 -2.5,273.3 -6.2,256.0 -9.6,238.6 -13.0,221.3 -16.1,204.0 -19.1,186.7 -21.9,169.3 -24.6,152.0 -27.1,134.7 -29.4,117.3 -31.6,100.0" fill="none" stroke="#4CF04C" stroke-width="2.2" stroke-dasharray="3.8 4.2"/>
<polyline points="517.0,1122.5 508.4,1105.2 499.4,1087.8 490.1,1070.5 480.5,1053.2 470.7,1035.8 460.5,1018.5 450.1,1001.2 439.5,983.9 428.7,966.5 417.7,949.2 406.7,931.9 395.7,914.5 384.7,897.2 373.7,879.9 362.8,862.5 351.9,845.2 341.0,827.9 330.2,810.6 319.3,793.2 308.6,775.9 298.1,758.6 287.7,741.2 277.5,723.9 267.5,706.6 257.7,689.2 248.1,671.9 238.8,654.6 229.6,637.2 220.6,619.9 211.9,602.6 203.4,585.3 195.1,567.9 187.0,550.6 179.1,533.3 171.5,515.9 164.0,498.6 156.8,481.3 149.8,463.9 142.9,446.6 136.3,429.3 130.0,411.9 123.8,394.6 117.9,377.3 112.2,360.0 106.8,342.6 101.7,325.3 96.7,308.0 91.9,290.6 87.1,273.3 82.4,256.0 77.9,238.6 73.6,221.3 69.4,204.0 65.4,186.7 61.6,169.3 58.0,152.0 54.6,134.7 51.3,117.3 48.1,100.0" fill="none" stroke="#4CF04C" stroke-width="2.2" stroke-dasharray="3.8 4.2"/>
<polyline points="603.6,1122.5 597.7,1105.2 591.5,1087.8 585.0,1070.5 578.2,1053.2 571.1,1035.8 563.7,1018.5 556.0,1001.2 547.9,983.9 539.6,966.5 531.0,949.2 522.0,931.9 512.8,914.5 503.2,897.2 493.3,879.9 483.2,862.5 472.9,845.2 462.3,827.9 451.6,810.6 440.9,793.2 430.2,775.9 419.6,758.6 409.1,741.2 398.7,723.9 388.4,706.6 378.3,689.2 368.3,671.9 358.4,654.6 348.6,637.2 338.9,619.9 329.3,602.6 319.7,585.3 310.2,567.9 300.8,550.6 291.7,533.3 282.7,515.9 274.0,498.6 265.4,481.3 257.1,463.9 249.0,446.6 241.2,429.3 233.5,411.9 226.1,394.6 218.9,377.3 211.9,360.0 205.1,342.6 198.5,325.3 192.2,308.0 186.0,290.6 180.0,273.3 174.3,256.0 168.7,238.6 163.3,221.3 158.1,204.0 153.1,186.7 148.3,169.3 143.7,152.0 139.2,134.7 135.0,117.3 130.9,100.0" fill="none" stroke="#4CF04C" stroke-width="2.2" stroke-dasharray="3.8 4.2"/>
<polyline points="681.1,1122.5 678.1,1105.2 675.0,1087.8 671.6,1070.5 668.0,1053.2 664.1,1035.8 660.0,1018.5 655.6,1001.2 650.9,983.9 645.9,966.5 640.6,949.2 634.9,931.9 628.8,914.5 622.3,897.2 615.4,879.9 608.2,862.5 600.5,845.2 592.5,827.9 584.2,810.6 575.6,793.2 566.8,775.9 557.8,758.6 548.7,741.2 539.3,723.9 529.9,706.6 520.3,689.2 510.5,671.9 500.7,654.6 490.8,637.2 480.8,619.9 470.8,602.6 460.7,585.3 450.6,567.9 440.6,550.6 430.7,533.3 421.0,515.9 411.4,498.6 402.0,481.3 392.8,463.9 383.7,446.6 374.7,429.3 365.9,411.9 357.2,394.6 348.7,377.3 340.4,360.0 332.3,342.6 324.5,325.3 316.8,308.0 309.4,290.6 302.2,273.3 295.1,256.0 288.3,238.6 281.7,221.3 275.3,204.0 269.1,186.7 263.1,169.3 257.2,152.0 251.6,134.7 246.2,117.3 240.9,100.0" fill="none" stroke="#4CF04C" stroke-width="2.2" stroke-dasharray="3.8 4.2"/>
<polyline points="741.5,1122.5 739.8,1105.2 738.1,1087.8 736.3,1070.5 734.4,1053.2 732.5,1035.8 730.4,1018.5 728.3,1001.2 726.0,983.9 723.6,966.5 721.1,949.2 718.4,931.9 715.6,914.5 712.6,897.2 709.3,879.9 705.8,862.5 702.0,845.2 697.9,827.9 693.3,810.6 688.4,793.2 683.0,775.9 677.3,758.6 671.1,741.2 664.6,723.9 657.6,706.6 650.2,689.2 642.3,671.9 634.1,654.6 625.5,637.2 616.6,619.9 607.3,602.6 597.7,585.3 588.0,567.9 578.6,550.6 569.3,533.3 560.2,515.9 551.1,498.6 542.1,481.3 533.1,463.9 523.9,446.6 514.6,429.3 505.0,411.9 495.1,394.6 485.3,377.3 475.6,360.0 466.1,342.6 456.8,325.3 447.8,308.0 438.9,290.6 430.2,273.3 421.7,256.0 413.5,238.6 405.5,221.3 397.6,204.0 390.0,186.7 382.6,169.3 375.4,152.0 368.4,134.7 361.6,117.3 355.0,100.0" fill="none" stroke="#4CF04C" stroke-width="2.2" stroke-dasharray="3.8 4.2"/>
<polyline points="802.8,1122.5 802.0,1105.2 801.3,1087.8 800.5,1070.5 799.8,1053.2 799.0,1035.8 798.3,1018.5 797.7,1001.2 797.1,983.9 796.6,966.5 796.1,949.2 795.6,931.9 795.1,914.5 794.4,897.2 793.7,879.9 792.8,862.5 791.7,845.2 790.5,827.9 789.2,810.6 787.6,793.2 785.8,775.9 783.6,758.6 781.2,741.2 778.5,723.9 775.5,706.6 772.2,689.2 768.6,671.9 764.7,654.6 760.4,637.2 755.8,619.9 750.9,602.6 745.6,585.3 739.9,567.9 733.8,550.6 727.2,533.3 720.2,515.9 712.7,498.6 704.9,481.3 696.7,463.9 688.1,446.6 679.2,429.3 670.1,411.9 660.7,394.6 651.2,377.3 641.6,360.0 631.9,342.6 622.2,325.3 612.5,308.0 602.9,290.6 593.4,273.3 584.0,256.0 574.8,238.6 565.7,221.3 556.9,204.0 548.3,186.7 540.0,169.3 531.8,152.0 524.0,134.7 516.4,117.3 509.0,100.0" fill="none" stroke="#4CF04C" stroke-width="2.2" stroke-dasharray="3.8 4.2"/>
<polyline points="855.3,1122.5 855.4,1105.2 855.5,1087.8 855.6,1070.5 855.8,1053.2 856.1,1035.8 856.4,1018.5 856.8,1001.2 857.2,983.9 857.7,966.5 858.3,949.2 858.9,931.9 859.5,914.5 860.2,897.2 860.7,879.9 861.3,862.5 861.8,845.2 862.3,827.9 862.8,810.6 863.3,793.2 863.7,775.9 864.0,758.6 864.2,741.2 864.3,723.9 864.4,706.6 864.3,689.2 864.1,671.9 863.7,654.6 863.2,637.2 862.6,619.9 861.8,602.6 860.7,585.3 859.5,567.9 857.7,550.6 855.5,533.3 852.9,515.9 849.9,498.6 846.6,481.3 843.0,463.9 839.2,446.6 835.3,429.3 831.2,411.9 827.0,394.6 822.4,377.3 817.5,360.0 812.1,342.6 806.2,325.3 799.9,308.0 793.2,290.6 786.0,273.3 778.4,256.0 770.4,238.6 762.0,221.3 753.3,204.0 744.3,186.7 735.1,169.3 725.7,152.0 716.2,134.7 706.6,117.3 697.0,100.0" fill="none" stroke="#4CF04C" stroke-width="2.2" stroke-dasharray="3.8 4.2"/>
<polyline points="390.4,1122.5 394.5,1112.6 398.7,1102.4 403.1,1092.0 407.5,1081.4 412.0,1070.5 416.7,1059.3 421.5,1047.8 426.5,1036.0 431.6,1023.8 436.8,1011.3 442.2,998.5 447.8,985.2 453.6,971.6 459.6,957.5 465.8,942.9 472.2,927.8 478.8,912.2 485.7,896.0 492.9,879.2" fill="none" stroke="#B4B4FF" stroke-width="1.5"/>
<polyline points="467.0,1122.5 470.9,1112.6 474.9,1102.4 479.0,1092.0 483.3,1081.4 487.6,1070.5 492.1,1059.3 496.7,1047.8 501.4,1036.0 506.3,1023.8 511.3,1011.3 516.5,998.5 521.8,985.2 527.4,971.6 533.1,957.5 539.0,942.9 545.2,927.8 551.5,912.2 558.2,896.0 565.1,879.2" fill="none" stroke="#B4B4FF" stroke-width="1.5"/>
<polyline points="549.4,1122.5 553.1,1112.6 556.9,1102.4 560.8,1092.0 564.9,1081.4 569.0,1070.5 573.2,1059.3 577.6,1047.8 582.1,1036.0 586.7,1023.8 591.4,1011.3 596.4,998.5 601.4,985.2 606.7,971.6 612.1,957.5 617.8,942.9 623.6,927.8 629.7,912.2 636.0,896.0 642.6,879.2" fill="none" stroke="#B4B4FF" stroke-width="1.5"/>
<polyline points="638.3,1122.5 641.8,1112.6 645.4,1102.4 649.0,1092.0 652.8,1081.4 656.6,1070.5 660.6,1059.3 664.7,1047.8 668.9,1036.0 673.2,1023.8 677.7,1011.3 682.3,998.5 687.1,985.2 692.0,971.6 697.2,957.5 702.5,942.9 708.0,927.8 713.7,912.2 719.6,896.0 725.9,879.2" fill="none" stroke="#B4B4FF" stroke-width="1.5"/>
<polyline points="734.0,1122.5 737.2,1112.6 740.5,1102.4 743.9,1092.0 747.3,1081.4 750.9,1070.5 754.6,1059.3 758.4,1047.8 762.3,1036.0 766.3,1023.8 770.4,1011.3 774.7,998.5 779.2,985.2 783.7,971.6 788.5,957.5 793.4,942.9 798.6,927.8 803.9,912.2 809.5,896.0 815.3,879.2" fill="none" stroke="#B4B4FF" stroke-width="1.5"/>
<line x1="91.5" y1="402.02" x2="982" y2="402.02" stroke="#666" stroke-width="1.1"/>
<line x1="91.5" y1="578.33" x2="982" y2="578.33" stroke="#666" stroke-width="1.1"/>
<line x1="91.5" y1="800.47" x2="982" y2="800.47" stroke="#666" stroke-width="1.1"/>
<line x1="91.5" y1="946.78" x2="982" y2="946.78" stroke="#666" stroke-width="1.1"/>
<line x1="91.5" y1="1031.21" x2="982" y2="1031.21" stroke="#666" stroke-width="1.1"/>
<line x1="91.5" y1="1101.88" x2="982" y2="1101.88" stroke="#666" stroke-width="1.1"/>
<line x1="359.25" y1="1122.5" x2="1033.69" y2="100.0" stroke="#0000CC" stroke-width="2.6" stroke-dasharray="3.8 4.6"/>
<line x1="537.75" y1="1122.5" x2="1212.19" y2="100.0" stroke="#0000CC" stroke-width="2.6" stroke-dasharray="3.8 4.6"/>
<text transform="translate(486.46 869.5) scale(1.0792 1)" x="0" y="0" font-size="20.14" fill="#B0B0FF" xml:space="preserve">1</text>
<text transform="translate(558.96 869.5) scale(1.0792 1)" x="0" y="0" font-size="20.14" fill="#B0B0FF" xml:space="preserve">2</text>
<text transform="translate(635.96 869.5) scale(1.0792 1)" x="0" y="0" font-size="20.14" fill="#B0B0FF" xml:space="preserve">4</text>
<text transform="translate(719.96 869.5) scale(1.0792 1)" x="0" y="0" font-size="20.14" fill="#B0B0FF" xml:space="preserve">8</text>
<text transform="translate(802.91 869.5) scale(1.0792 1)" x="0 11.2" y="0" font-size="20.14" fill="#B0B0FF" xml:space="preserve">16</text>
<text transform="translate(878 463.8) rotate(-53) translate(-62.97 0) scale(1.0579 1)" x="-0.59 15.17 28.03 33.67 39.09 44.5 61.62 69.47 81.66 99.02 106.27" y="0" font-size="22.79" fill="#AAAAFF" xml:space="preserve">Hail Growth</text>
<text transform="translate(900 476.6) rotate(-53) translate(-64.18 0) scale(1.0238 1)" x="-0.49 11.8 25.09 37.12 50.44 58.72 65.53 73.09 88.49 105 117.49" y="0" font-size="22.79" fill="#AAAAFF" xml:space="preserve">Layer (HGL)</text>
<path d="M330.6,401.5 C337.2,414.4 359.2,458.0 370.0,478.9 C380.8,499.8 388.1,513.6 395.4,527.0 C402.7,540.4 406.6,546.5 414.0,559.3 C421.4,572.1 429.0,585.0 440.0,603.6 C451.0,622.2 468.9,652.4 479.9,671.0 C490.9,689.6 499.2,703.2 506.0,715.0 C512.8,726.8 511.3,725.3 520.5,741.5 C529.7,757.7 547.8,786.8 561.0,812.0 C574.2,837.2 590.0,871.0 600.0,893.0 C610.0,915.0 612.2,921.0 621.0,944.0 C629.8,967.0 647.2,1016.5 652.5,1031.0" fill="none" stroke="#FFA500" stroke-width="2.2"/>
<path d="M379.6,401.2 C380.3,403.1 381.6,407.5 383.7,412.9 C385.8,418.3 388.6,425.7 392.0,433.5 C395.4,441.3 399.8,450.2 404.4,459.6 C409.0,469.0 414.5,480.0 419.5,489.9 C424.5,499.8 430.0,510.2 434.6,518.7 C439.2,527.2 443.3,533.9 447.0,540.7 C450.7,547.5 453.0,553.2 456.6,559.3 C460.2,565.4 466.8,574.5 468.9,577.5 C470.9,581.9 476.2,593.5 481.2,603.6 C486.2,613.7 493.6,628.6 499.1,638.0 C504.6,647.4 508.9,652.4 514.2,660.0 C519.5,667.6 525.2,676.3 530.7,683.4 C536.2,690.5 544.5,699.6 547.3,702.8 C546.3,709.0 543.0,728.8 541.5,740.0 C540.0,751.2 539.3,759.9 538.5,770.0 C537.7,780.1 536.9,795.4 536.6,800.5 C532.3,804.1 519.6,815.0 511.0,822.2 C502.4,829.4 497.0,834.3 485.0,843.9 C473.0,853.5 446.8,873.6 439.1,879.6 C446.8,883.8 470.9,896.5 485.0,904.6 C499.1,912.7 512.2,921.4 524.0,928.4 C535.8,935.4 550.4,943.4 555.7,946.4 C561.8,952.7 578.2,970.0 592.5,984.0 C606.8,998.0 633.3,1022.6 641.5,1030.3 C642.3,1038.5 645.7,1071.1 646.5,1079.3 C645.2,1081.2 640.1,1088.8 638.8,1090.7 C640.4,1091.1 646.9,1092.6 648.5,1093.0" fill="none" stroke="#3A963A" stroke-width="4.2" stroke-linejoin="round" stroke-linecap="round"/>
<path d="M424.3,401.2 C424.9,403.4 426.2,408.8 427.7,414.2 C429.2,419.6 431.1,426.9 433.2,433.5 C435.3,440.1 437.8,447.7 440.1,454.1 C442.4,460.5 444.5,465.8 447.0,472.0 C449.5,478.2 452.0,484.6 455.2,491.2 C458.4,497.8 462.5,505.0 466.2,511.9 C469.9,518.8 472.8,524.6 477.2,532.5 C481.6,540.4 488.1,551.8 492.4,559.3 C496.7,566.8 501.4,574.5 503.2,577.5 C505.5,583.0 512.9,601.6 517.0,610.5 C521.1,619.4 523.4,622.9 528.0,631.1 C532.6,639.4 539.2,651.5 544.5,660.0 C549.8,668.5 554.8,674.9 559.6,682.0 C564.5,689.1 571.3,699.1 573.6,702.5 C574.7,707.9 577.7,724.6 580.0,735.0 C582.3,745.4 584.2,754.2 587.5,765.0 C590.8,775.8 595.6,788.0 600.0,800.0 C604.4,812.0 609.5,826.7 614.0,837.0 C618.5,847.3 623.3,854.9 627.0,862.0 C630.7,869.1 634.5,876.6 636.0,879.5 C636.8,884.6 639.0,899.2 640.5,910.0 C642.0,920.8 644.2,938.3 645.0,944.0 C644.5,950.0 642.6,965.5 642.0,980.0 C641.4,994.5 641.6,1022.7 641.5,1031.2 C643.7,1039.2 652.4,1071.3 654.6,1079.3 C656.6,1081.2 664.5,1088.6 666.5,1090.5 C664.7,1090.9 657.3,1092.6 655.5,1093.0" fill="none" stroke="#FF1A1A" stroke-width="4.2" stroke-linejoin="round" stroke-linecap="round"/>
<path d="M425.1,401.2 C425.7,403.4 427.0,408.8 428.5,414.2 C430.0,419.6 431.9,426.9 434.0,433.5 C436.1,440.1 438.6,447.7 440.9,454.1 C443.2,460.5 445.3,465.8 447.8,472.0 C450.3,478.2 452.8,484.6 456.0,491.2 C459.2,497.8 463.3,505.0 467.0,511.9 C470.7,518.8 473.6,524.6 478.0,532.5 C482.4,540.4 488.9,551.8 493.2,559.3 C497.5,566.8 502.2,574.5 504.0,577.5 C506.3,583.0 513.7,601.6 517.8,610.5 C521.9,619.4 524.2,622.9 528.8,631.1 C533.4,639.4 540.0,651.5 545.3,660.0 C550.6,668.5 555.5,674.9 560.4,682.0 C565.2,689.1 572.1,699.1 574.4,702.5 C575.5,707.9 578.5,724.6 580.8,735.0 C583.1,745.4 585.0,754.2 588.3,765.0 C591.6,775.8 596.4,788.0 600.8,800.0 C605.2,812.0 610.3,826.7 614.8,837.0 C619.3,847.3 624.1,854.9 627.8,862.0 C631.5,869.1 634.8,873.2 636.8,879.5 C638.8,885.8 639.0,896.6 639.5,900.0 C640.7,907.6 645.2,933.2 646.7,945.5 C648.2,957.8 647.9,963.6 648.5,973.5 C649.1,983.4 649.6,995.4 650.2,1005.0 C650.8,1014.6 651.7,1026.8 652.0,1031.2 C653.7,1037.0 658.3,1056.3 662.4,1066.2 C666.5,1076.1 674.1,1086.6 676.4,1090.7 C675.0,1091.0 669.4,1092.1 668.0,1092.4" fill="none" stroke="#CC0000" stroke-width="2.4" stroke-dasharray="3.3 4.4"/>
</g>
<rect x="688.25" y="100.0" width="295.75" height="70.4" fill="#fff" fill-opacity="0.8" stroke="#999" stroke-width="1"/>
<text transform="translate(701 130.6) scale(1.0996 1)" x="-0.37 12.55 23.57 31.06 41.75 53.07 58.78" y="0" font-size="19.61" font-weight="bold" fill="#000" xml:space="preserve">Parcel:</text>
<text transform="translate(768.5 130.6) scale(1.0805 1)" x="0.17 16.46 26.71 36.71 42.61 48.94 59.79 70.22 80.22 86.09 96.77 107.86 112.23 122.95 128.47 135.07 145.79 152.14 163.03 173.92 184.82 195.89 212.47" y="0" font-size="19.61" fill="#000" xml:space="preserve">most-unstable (0-3000m)</text>
<text transform="translate(701 155.7) scale(1.1210 1)" x="-0.6 12.57 19.46 31.37 39.13 56.61 63.18 80.18 92.51 99.83 105.06 116.6 128.5" y="0" font-size="19.61" font-weight="bold" fill="#000" xml:space="preserve">Storm-motion:</text>
<text transform="translate(832 155.7) scale(1.0351 1)" x="-0.41 12.47 23.8 35.19 45.31 56.03 62.73 72.4 77.88 83.04" y="0" font-size="19.61" fill="#000" xml:space="preserve">Bunkers ID</text>
<text transform="translate(93.5 452) scale(1.0919 1)" x="-0.24 6.93 14.1 21.48 27.76 40.4 53.08 59.44 71.04" y="0" font-size="23" fill="#000" xml:space="preserve">--- 11 km</text>
<text transform="translate(93.5 518.7) scale(1.0717 1)" x="-0.18 7.13 14.44 21.94 28.4 41.28 54.14 60.67 72.57" y="0" font-size="23" fill="#000" xml:space="preserve">--- 10 km</text>
<text transform="translate(93.5 585.3) scale(1.0705 1)" x="-0.17 7.14 14.46 21.97 28.44 41.31 47.85 59.76" y="0" font-size="23" fill="#000" xml:space="preserve">--- 9 km</text>
<text transform="translate(93.5 650.4) scale(1.0705 1)" x="-0.17 7.14 14.46 21.97 28.44 41.31 47.85 59.76" y="0" font-size="23" fill="#000" xml:space="preserve">--- 8 km</text>
<text transform="translate(93.5 708) scale(1.0705 1)" x="-0.17 7.14 14.46 21.97 28.44 41.31 47.85 59.76" y="0" font-size="23" fill="#000" xml:space="preserve">--- 7 km</text>
<text transform="translate(93.5 769.7) scale(1.0705 1)" x="-0.17 7.14 14.46 21.97 28.44 41.31 47.85 59.76" y="0" font-size="23" fill="#000" xml:space="preserve">--- 6 km</text>
<text transform="translate(93.5 826.7) scale(1.0705 1)" x="-0.17 7.14 14.46 21.97 28.44 41.31 47.85 59.76" y="0" font-size="23" fill="#000" xml:space="preserve">--- 5 km</text>
<text transform="translate(93.5 882.7) scale(1.0705 1)" x="-0.17 7.14 14.46 21.97 28.44 41.31 47.85 59.76" y="0" font-size="23" fill="#000" xml:space="preserve">--- 4 km</text>
<text transform="translate(93.5 937.7) scale(1.0705 1)" x="-0.17 7.14 14.46 21.97 28.44 41.31 47.85 59.76" y="0" font-size="23" fill="#000" xml:space="preserve">--- 3 km</text>
<text transform="translate(93.5 993.7) scale(1.0705 1)" x="-0.17 7.14 14.46 21.97 28.44 41.31 47.85 59.76" y="0" font-size="23" fill="#000" xml:space="preserve">--- 2 km</text>
<text transform="translate(93.5 1045.7) scale(1.0705 1)" x="-0.17 7.14 14.46 21.97 28.44 41.31 47.85 59.76" y="0" font-size="23" fill="#000" xml:space="preserve">--- 1 km</text>
<text transform="translate(93.5 1097.7) scale(1.0551 1)" x="-0.12 7.3 14.72 22.34 27.66 42.28 49 60.48 67.12 75.11 88.2 101.28 114.29 121.19 140.97 148.89 155.23 162.65 170.08" y="0" font-size="23" fill="#000" xml:space="preserve">--- Sfc (282 m) ---</text>
<rect x="91.5" y="100.0" width="892.5" height="1022.5" fill="none" stroke="#000" stroke-width="2.5"/>
<line x1="91.5" y1="1122.5" x2="91.5" y2="1133.3" stroke="#000" stroke-width="2.2"/>
<text transform="translate(74.11 1158.8) scale(1.0661 1)" x="-0.15 7.29 20" y="0" font-size="22.58" fill="#000" xml:space="preserve">-50</text>
<line x1="180.75" y1="1122.5" x2="180.75" y2="1133.3" stroke="#000" stroke-width="2.2"/>
<text transform="translate(163.36 1158.8) scale(1.0661 1)" x="-0.15 7.29 20" y="0" font-size="22.58" fill="#000" xml:space="preserve">-40</text>
<line x1="270" y1="1122.5" x2="270" y2="1133.3" stroke="#000" stroke-width="2.2"/>
<text transform="translate(252.61 1158.8) scale(1.0661 1)" x="-0.15 7.29 20" y="0" font-size="22.58" fill="#000" xml:space="preserve">-30</text>
<line x1="359.25" y1="1122.5" x2="359.25" y2="1133.3" stroke="#000" stroke-width="2.2"/>
<text transform="translate(341.86 1158.8) scale(1.0661 1)" x="-0.15 7.29 20" y="0" font-size="22.58" fill="#000" xml:space="preserve">-20</text>
<line x1="448.5" y1="1122.5" x2="448.5" y2="1133.3" stroke="#000" stroke-width="2.2"/>
<text transform="translate(431.11 1158.8) scale(1.0661 1)" x="-0.15 7.29 20" y="0" font-size="22.58" fill="#000" xml:space="preserve">-10</text>
<line x1="537.75" y1="1122.5" x2="537.75" y2="1133.3" stroke="#000" stroke-width="2.2"/>
<text transform="translate(530.97 1158.8) scale(1.0792 1)" x="0" y="0" font-size="22.58" fill="#000" xml:space="preserve">0</text>
<line x1="627" y1="1122.5" x2="627" y2="1133.3" stroke="#000" stroke-width="2.2"/>
<text transform="translate(613.45 1158.8) scale(1.0792 1)" x="0 12.56" y="0" font-size="22.58" fill="#000" xml:space="preserve">10</text>
<line x1="716.25" y1="1122.5" x2="716.25" y2="1133.3" stroke="#000" stroke-width="2.2"/>
<text transform="translate(702.7 1158.8) scale(1.0792 1)" x="0 12.56" y="0" font-size="22.58" fill="#000" xml:space="preserve">20</text>
<line x1="805.5" y1="1122.5" x2="805.5" y2="1133.3" stroke="#000" stroke-width="2.2"/>
<text transform="translate(791.95 1158.8) scale(1.0792 1)" x="0 12.56" y="0" font-size="22.58" fill="#000" xml:space="preserve">30</text>
<line x1="894.75" y1="1122.5" x2="894.75" y2="1133.3" stroke="#000" stroke-width="2.2"/>
<text transform="translate(881.2 1158.8) scale(1.0792 1)" x="0 12.56" y="0" font-size="22.58" fill="#000" xml:space="preserve">40</text>
<line x1="984" y1="1122.5" x2="984" y2="1133.3" stroke="#000" stroke-width="2.2"/>
<text transform="translate(970.45 1158.8) scale(1.0792 1)" x="0 12.56" y="0" font-size="22.58" fill="#000" xml:space="preserve">50</text>
<text transform="translate(43.09 107.7) scale(1.0792 1)" x="0 12.56 25.11" y="0" font-size="22.58" fill="#000" xml:space="preserve">100</text>
<text transform="translate(43.09 409.12) scale(1.0792 1)" x="0 12.56 25.11" y="0" font-size="22.58" fill="#000" xml:space="preserve">200</text>
<text transform="translate(43.09 585.43) scale(1.0792 1)" x="0 12.56 25.11" y="0" font-size="22.58" fill="#000" xml:space="preserve">300</text>
<text transform="translate(43.09 807.57) scale(1.0792 1)" x="0 12.56 25.11" y="0" font-size="22.58" fill="#000" xml:space="preserve">500</text>
<text transform="translate(43.09 953.88) scale(1.0792 1)" x="0 12.56 25.11" y="0" font-size="22.58" fill="#000" xml:space="preserve">700</text>
<text transform="translate(43.09 1038.31) scale(1.0792 1)" x="0 12.56 25.11" y="0" font-size="22.58" fill="#000" xml:space="preserve">850</text>
<text transform="translate(29.54 1108.98) scale(1.0792 1)" x="0 12.56 25.11 37.67" y="0" font-size="22.58" fill="#000" xml:space="preserve">1000</text>
<text transform="translate(445.68 1191.8) scale(1.0757 1)" x="-0.85 11.91 21.15 40.21 52.58 65.26 72.88 85.97 92.99 105.85 113.5 125.44 132.45 139.89 148.11 163.9" y="0" font-size="22.58" fill="#000" xml:space="preserve">Temperature [°C]</text>
<text transform="translate(27.75 611.5) rotate(-90) translate(-76.39 0) scale(1.0231 1)" x="-1.25 13.08 20.87 32.88 43.73 55.11 68.51 76.68 89.07 96.44 103.96 115.58 129.49 142.14" y="0" font-size="22.58" fill="#000" xml:space="preserve">Pressure [hPa]</text>
<text transform="translate(137 60) scale(1.1433 1)" x="0.62 10.55 37.08 67.77 97.92 111.45 141.66 165.82 178.26 190.78 202.51 237.65 261.68 277.18 297.97 319.63 345.23 357.67 370.19 382.79 394.69 420.2 433.39 448.75 463.01 475.37 499.71 524.43 537.35 561.69 586.41 599.32 623.67 648.01 672.35 696.52 708.88 733.22 757.12 771.56 795.9 820.06 830.94 859.44 881.85 910.19 922.63 935.15 946.53 974.22 996.01 1008.01 1019.46 1044.87 1059.13 1071.49 1095.83 1120.55 1133.47 1157.81 1182.53 1195.45 1219.79 1244.13 1268.48 1292.64 1305 1329.34 1353.24 1367.68 1392.02 1416.18 1427.06 1455.56 1477.97" y="0" font-size="42.4" font-weight="bold" fill="#000" xml:space="preserve">ICON-D2 | Mersch | Init: 07.12.2025 09:00 UTC | Valid: 08.12.2025 00:00 UTC</text>
<line x1="994.0" y1="411.5" x2="1031.0" y2="407.75" stroke="#000" stroke-width="2.4"/>
<path d="M993.5,411.6 L996.4,395.9 L1002.5,410.6 Z" fill="#000" stroke="#000" stroke-width="1" stroke-linejoin="round"/>
<line x1="1007.7" y1="410.1" x2="1006.8" y2="395.1" stroke="#000" stroke-width="2.4"/>
<line x1="1015.2" y1="409.3" x2="1014.8" y2="401.9" stroke="#000" stroke-width="2.4"/>
<line x1="994.0" y1="449.75" x2="1031.0" y2="445.25" stroke="#000" stroke-width="2.4"/>
<path d="M993.5,449.8 L996.1,434.1 L1002.4,448.7 Z" fill="#000" stroke="#000" stroke-width="1" stroke-linejoin="round"/>
<line x1="1007.6" y1="448.1" x2="1006.4" y2="433.1" stroke="#000" stroke-width="2.4"/>
<line x1="994.0" y1="485" x2="1031.0" y2="479" stroke="#000" stroke-width="2.4"/>
<path d="M993.5,485.1 L995.5,469.3 L1002.4,483.6 Z" fill="#000" stroke="#000" stroke-width="1" stroke-linejoin="round"/>
<line x1="1008.1" y1="482.7" x2="1007.2" y2="475.3" stroke="#000" stroke-width="2.4"/>
<line x1="994.0" y1="518.75" x2="1031.0" y2="512.75" stroke="#000" stroke-width="2.4"/>
<path d="M993.5,518.8 L995.5,503.0 L1002.4,517.4 Z" fill="#000" stroke="#000" stroke-width="1" stroke-linejoin="round"/>
<line x1="1008.1" y1="516.5" x2="1007.2" y2="509.0" stroke="#000" stroke-width="2.4"/>
<line x1="994.0" y1="551.75" x2="1031.0" y2="546.5" stroke="#000" stroke-width="2.4"/>
<path d="M993.5,551.8 L995.8,536.0 L1002.4,550.6 Z" fill="#000" stroke="#000" stroke-width="1" stroke-linejoin="round"/>
<line x1="994.0" y1="583.75" x2="1031.0" y2="577.75" stroke="#000" stroke-width="2.4"/>
<path d="M993.5,583.8 L995.5,568.0 L1002.4,582.4 Z" fill="#000" stroke="#000" stroke-width="1" stroke-linejoin="round"/>
<line x1="994.0" y1="618.25" x2="1031.0" y2="612.75" stroke="#000" stroke-width="2.4"/>
<path d="M993.5,618.3 L995.7,602.5 L1002.4,617.0 Z" fill="#000" stroke="#000" stroke-width="1" stroke-linejoin="round"/>
<line x1="994.0" y1="650.5" x2="1031.0" y2="644.8" stroke="#000" stroke-width="2.4"/>
<path d="M993.5,650.6 L995.6,634.8 L1002.4,649.2 Z" fill="#000" stroke="#000" stroke-width="1" stroke-linejoin="round"/>
<line x1="994.0" y1="681.25" x2="1031.0" y2="674.5" stroke="#000" stroke-width="2.4"/>
<line x1="994.0" y1="681.2" x2="991.9" y2="666.4" stroke="#000" stroke-width="2.4"/>
<line x1="1001.0" y1="680.0" x2="998.9" y2="665.1" stroke="#000" stroke-width="2.4"/>
<line x1="1008.0" y1="678.7" x2="1005.9" y2="663.8" stroke="#000" stroke-width="2.4"/>
<line x1="1015.0" y1="677.4" x2="1012.9" y2="662.6" stroke="#000" stroke-width="2.4"/>
<line x1="1022.4" y1="676.1" x2="1021.4" y2="668.6" stroke="#000" stroke-width="2.4"/>
<line x1="994.0" y1="709" x2="1031.0" y2="703" stroke="#000" stroke-width="2.4"/>
<line x1="994.0" y1="709.0" x2="992.2" y2="694.1" stroke="#000" stroke-width="2.4"/>
<line x1="1001.0" y1="707.9" x2="999.2" y2="693.0" stroke="#000" stroke-width="2.4"/>
<line x1="1008.0" y1="706.7" x2="1006.2" y2="691.8" stroke="#000" stroke-width="2.4"/>
<line x1="1015.0" y1="705.6" x2="1013.2" y2="690.7" stroke="#000" stroke-width="2.4"/>
<line x1="1022.5" y1="704.4" x2="1021.6" y2="696.9" stroke="#000" stroke-width="2.4"/>
<line x1="994.0" y1="738.75" x2="1031.0" y2="734.75" stroke="#000" stroke-width="2.4"/>
<line x1="994.0" y1="738.8" x2="993.0" y2="723.8" stroke="#000" stroke-width="2.4"/>
<line x1="1001.1" y1="738.0" x2="1000.0" y2="723.0" stroke="#000" stroke-width="2.4"/>
<line x1="1008.1" y1="737.2" x2="1007.1" y2="722.2" stroke="#000" stroke-width="2.4"/>
<line x1="1015.2" y1="736.5" x2="1014.2" y2="721.5" stroke="#000" stroke-width="2.4"/>
<line x1="994.0" y1="766.5" x2="1031.0" y2="764.7" stroke="#000" stroke-width="2.4"/>
<line x1="994.0" y1="766.5" x2="993.9" y2="751.5" stroke="#000" stroke-width="2.4"/>
<line x1="1001.1" y1="766.2" x2="1001.0" y2="751.1" stroke="#000" stroke-width="2.4"/>
<line x1="1008.2" y1="765.8" x2="1008.1" y2="750.8" stroke="#000" stroke-width="2.4"/>
<line x1="1015.8" y1="765.4" x2="1015.7" y2="757.9" stroke="#000" stroke-width="2.4"/>
<line x1="994.0" y1="792" x2="1031.0" y2="792.75" stroke="#000" stroke-width="2.4"/>
<line x1="994.0" y1="792.0" x2="994.9" y2="777.0" stroke="#000" stroke-width="2.4"/>
<line x1="1001.1" y1="792.1" x2="1002.0" y2="777.2" stroke="#000" stroke-width="2.4"/>
<line x1="1008.2" y1="792.3" x2="1009.1" y2="777.3" stroke="#000" stroke-width="2.4"/>
<line x1="994.0" y1="819.75" x2="1031.0" y2="822" stroke="#000" stroke-width="2.4"/>
<line x1="994.0" y1="819.8" x2="995.5" y2="804.8" stroke="#000" stroke-width="2.4"/>
<line x1="1001.1" y1="820.2" x2="1002.6" y2="805.2" stroke="#000" stroke-width="2.4"/>
<line x1="1008.2" y1="820.6" x2="1009.7" y2="805.7" stroke="#000" stroke-width="2.4"/>
<line x1="994.0" y1="848.25" x2="1031.0" y2="850.5" stroke="#000" stroke-width="2.4"/>
<line x1="994.0" y1="848.2" x2="995.5" y2="833.3" stroke="#000" stroke-width="2.4"/>
<line x1="1001.1" y1="848.7" x2="1002.6" y2="833.7" stroke="#000" stroke-width="2.4"/>
<line x1="1008.2" y1="849.1" x2="1009.7" y2="834.2" stroke="#000" stroke-width="2.4"/>
<line x1="1015.8" y1="849.6" x2="1016.5" y2="842.1" stroke="#000" stroke-width="2.4"/>
<line x1="994.0" y1="874.5" x2="1031.0" y2="877.5" stroke="#000" stroke-width="2.4"/>
<line x1="994.0" y1="874.5" x2="995.8" y2="859.6" stroke="#000" stroke-width="2.4"/>
<line x1="1001.1" y1="875.1" x2="1002.9" y2="860.2" stroke="#000" stroke-width="2.4"/>
<line x1="1008.2" y1="875.6" x2="1010.0" y2="860.7" stroke="#000" stroke-width="2.4"/>
<line x1="1015.7" y1="876.3" x2="1016.6" y2="868.8" stroke="#000" stroke-width="2.4"/>
<line x1="994.0" y1="903.4" x2="1031.0" y2="905.7" stroke="#000" stroke-width="2.4"/>
<line x1="994.0" y1="903.4" x2="995.5" y2="888.5" stroke="#000" stroke-width="2.4"/>
<line x1="1001.1" y1="903.8" x2="1002.6" y2="888.9" stroke="#000" stroke-width="2.4"/>
<line x1="1008.2" y1="904.3" x2="1009.7" y2="889.3" stroke="#000" stroke-width="2.4"/>
<line x1="1015.8" y1="904.8" x2="1016.5" y2="897.3" stroke="#000" stroke-width="2.4"/>
<line x1="994.0" y1="929.9" x2="1031.0" y2="933.2" stroke="#000" stroke-width="2.4"/>
<line x1="994.0" y1="929.9" x2="995.9" y2="915.0" stroke="#000" stroke-width="2.4"/>
<line x1="1001.1" y1="930.5" x2="1003.0" y2="915.6" stroke="#000" stroke-width="2.4"/>
<line x1="1008.1" y1="931.2" x2="1010.1" y2="916.3" stroke="#000" stroke-width="2.4"/>
<line x1="994.0" y1="956.7" x2="1031.0" y2="960.9" stroke="#000" stroke-width="2.4"/>
<line x1="994.0" y1="956.7" x2="996.3" y2="941.9" stroke="#000" stroke-width="2.4"/>
<line x1="1001.1" y1="957.5" x2="1003.3" y2="942.7" stroke="#000" stroke-width="2.4"/>
<line x1="1008.1" y1="958.3" x2="1010.4" y2="943.5" stroke="#000" stroke-width="2.4"/>
<line x1="994.0" y1="983.9" x2="1031.0" y2="988.7" stroke="#000" stroke-width="2.4"/>
<line x1="994.0" y1="983.9" x2="996.5" y2="969.1" stroke="#000" stroke-width="2.4"/>
<line x1="1001.0" y1="984.8" x2="1003.6" y2="970.0" stroke="#000" stroke-width="2.4"/>
<line x1="1008.1" y1="985.7" x2="1010.6" y2="970.9" stroke="#000" stroke-width="2.4"/>
<line x1="1015.6" y1="986.7" x2="1016.9" y2="979.3" stroke="#000" stroke-width="2.4"/>
<line x1="994.0" y1="1010.4" x2="1031.0" y2="1014.6" stroke="#000" stroke-width="2.4"/>
<line x1="994.0" y1="1010.4" x2="996.3" y2="995.6" stroke="#000" stroke-width="2.4"/>
<line x1="1001.1" y1="1011.2" x2="1003.3" y2="996.4" stroke="#000" stroke-width="2.4"/>
<line x1="1008.1" y1="1012.0" x2="1010.4" y2="997.2" stroke="#000" stroke-width="2.4"/>
<line x1="1015.7" y1="1012.9" x2="1016.8" y2="1005.4" stroke="#000" stroke-width="2.4"/>
<line x1="994.0" y1="1037.6" x2="1031.0" y2="1040.5" stroke="#000" stroke-width="2.4"/>
<line x1="994.0" y1="1037.6" x2="995.8" y2="1022.7" stroke="#000" stroke-width="2.4"/>
<line x1="1001.1" y1="1038.2" x2="1002.8" y2="1023.2" stroke="#000" stroke-width="2.4"/>
<line x1="1008.2" y1="1038.7" x2="1009.9" y2="1023.8" stroke="#000" stroke-width="2.4"/>
<line x1="994.0" y1="1071" x2="1031.0" y2="1065.8" stroke="#000" stroke-width="2.4"/>
<line x1="994.0" y1="1071.0" x2="992.5" y2="1056.1" stroke="#000" stroke-width="2.4"/>
<line x1="1001.0" y1="1070.0" x2="999.5" y2="1055.1" stroke="#000" stroke-width="2.4"/>
<line x1="1008.6" y1="1069.0" x2="1007.8" y2="1061.5" stroke="#000" stroke-width="2.4"/>
<path d="M994.3,1101.7 L997.3,1108.5 L1031.0,1093.2" stroke="#000" stroke-width="2.4" fill="none" stroke-linejoin="miter"/>
<defs><clipPath id="cprh"><rect x="1079.6" y="98.7" width="280.4" height="228.3"/></clipPath><clipPath id="cpte"><rect x="1079.8" y="361.4" width="280.2" height="228.2"/></clipPath></defs>
<g clip-path="url(#cprh)"><path d="M1240.1,98.9 C1241.9,102.8 1249.1,118.5 1250.8,122.4 C1249.2,123.9 1245.0,127.7 1241.1,131.2 C1237.1,134.8 1231.6,139.9 1227.3,144.0 C1223.1,148.1 1220.0,151.6 1215.6,155.7 C1211.2,159.9 1203.3,166.8 1200.9,169.1 C1197.8,169.9 1188.3,172.5 1182.3,174.3 C1176.2,176.2 1170.5,177.9 1164.6,180.2 C1158.8,182.5 1152.6,185.3 1147.0,188.1 C1141.5,190.8 1136.4,193.4 1131.3,196.9 C1126.3,200.3 1119.1,206.7 1116.7,208.6 C1118.1,210.1 1121.7,214.5 1125.5,217.4 C1129.2,220.4 1133.6,223.2 1139.2,226.3 C1144.7,229.4 1151.9,233.3 1158.8,236.1 C1165.6,238.8 1173.8,240.3 1180.3,242.9 C1186.9,245.5 1191.1,248.6 1198.0,251.7 C1204.8,254.8 1214.3,258.7 1221.5,261.5 C1228.6,264.3 1233.9,266.1 1241.1,268.4 C1248.2,270.7 1257.1,272.8 1264.6,275.2 C1272.1,277.7 1278.9,280.8 1286.1,283.1 C1293.4,285.3 1304.4,287.6 1308.1,288.6 C1305.7,292.9 1296.3,310.4 1293.9,314.8 C1289.5,315.8 1271.9,319.7 1267.5,320.7 C1272.1,320.9 1290.4,321.7 1294.9,321.9" fill="none" stroke="#0000EE" stroke-width="3.4" stroke-linejoin="round" stroke-linecap="round"/></g>
<rect x="1079.6" y="98.7" width="280.4" height="228.3" fill="none" stroke="#000" stroke-width="2.2"/>
<text transform="translate(1184.18 125.1) scale(1.0411 1)" x="-1.05 13.75 29.71 36.96 43.77 64.38" y="0" font-size="22.58" fill="#000" xml:space="preserve">RH [%]</text>
<line x1="1337.2" y1="121.6" x2="1359" y2="121.6" stroke="#444" stroke-width="1.3"/>
<text transform="translate(1308.87 116.9) scale(1.0916 1)" x="-0.06 10.58 15.91 25.65" y="0" font-size="19.29" fill="#000" xml:space="preserve">7 km</text>
<line x1="1337.2" y1="150.2" x2="1359" y2="150.2" stroke="#444" stroke-width="1.3"/>
<text transform="translate(1308.87 145.5) scale(1.0916 1)" x="-0.06 10.58 15.91 25.65" y="0" font-size="19.29" fill="#000" xml:space="preserve">6 km</text>
<line x1="1337.2" y1="178.8" x2="1359" y2="178.8" stroke="#444" stroke-width="1.3"/>
<text transform="translate(1308.87 174.1) scale(1.0916 1)" x="-0.06 10.58 15.91 25.65" y="0" font-size="19.29" fill="#000" xml:space="preserve">5 km</text>
<line x1="1337.2" y1="207.4" x2="1359" y2="207.4" stroke="#444" stroke-width="1.3"/>
<text transform="translate(1308.87 202.7) scale(1.0916 1)" x="-0.06 10.58 15.91 25.65" y="0" font-size="19.29" fill="#000" xml:space="preserve">4 km</text>
<line x1="1337.2" y1="236" x2="1359" y2="236" stroke="#444" stroke-width="1.3"/>
<text transform="translate(1308.87 231.3) scale(1.0916 1)" x="-0.06 10.58 15.91 25.65" y="0" font-size="19.29" fill="#000" xml:space="preserve">3 km</text>
<line x1="1337.2" y1="264.6" x2="1359" y2="264.6" stroke="#444" stroke-width="1.3"/>
<text transform="translate(1308.87 259.9) scale(1.0916 1)" x="-0.06 10.58 15.91 25.65" y="0" font-size="19.29" fill="#000" xml:space="preserve">2 km</text>
<line x1="1337.2" y1="293.2" x2="1359" y2="293.2" stroke="#444" stroke-width="1.3"/>
<text transform="translate(1308.87 288.5) scale(1.0916 1)" x="-0.06 10.58 15.91 25.65" y="0" font-size="19.29" fill="#000" xml:space="preserve">1 km</text>
<line x1="1337.2" y1="321.8" x2="1359" y2="321.8" stroke="#444" stroke-width="1.3"/>
<text transform="translate(1326.1 317.1) scale(1.0505 1)" x="-0.31 9.4 15.07" y="0" font-size="19.29" fill="#000" xml:space="preserve">sfc</text>
<line x1="1090.25" y1="328" x2="1090.25" y2="336.3" stroke="#555" stroke-width="1.3"/>
<text transform="translate(1084.33 350) scale(1.0792 1)" x="0" y="0" font-size="19.72" fill="#000" xml:space="preserve">0</text>
<line x1="1133.85" y1="328" x2="1133.85" y2="336.3" stroke="#555" stroke-width="1.3"/>
<text transform="translate(1122.02 350) scale(1.0792 1)" x="0 10.97" y="0" font-size="19.72" fill="#000" xml:space="preserve">20</text>
<line x1="1177.45" y1="328" x2="1177.45" y2="336.3" stroke="#555" stroke-width="1.3"/>
<text transform="translate(1165.62 350) scale(1.0792 1)" x="0 10.97" y="0" font-size="19.72" fill="#000" xml:space="preserve">40</text>
<line x1="1221.05" y1="328" x2="1221.05" y2="336.3" stroke="#555" stroke-width="1.3"/>
<text transform="translate(1209.22 350) scale(1.0792 1)" x="0 10.97" y="0" font-size="19.72" fill="#000" xml:space="preserve">60</text>
<line x1="1264.65" y1="328" x2="1264.65" y2="336.3" stroke="#555" stroke-width="1.3"/>
<text transform="translate(1252.82 350) scale(1.0792 1)" x="0 10.97" y="0" font-size="19.72" fill="#000" xml:space="preserve">80</text>
<line x1="1308.25" y1="328" x2="1308.25" y2="336.3" stroke="#555" stroke-width="1.3"/>
<g clip-path="url(#cpte)"><path d="M1232.0,363.0 C1232.0,365.0 1231.9,371.3 1232.0,375.0 C1232.1,378.7 1232.3,383.3 1232.4,385.0 C1231.8,386.7 1230.2,391.0 1229.0,395.0 C1227.8,399.0 1226.3,403.7 1225.0,409.0 C1223.7,414.3 1222.0,422.7 1221.0,427.0 C1220.0,431.3 1220.0,431.3 1219.0,435.0 C1218.0,438.7 1216.3,444.0 1215.0,449.0 C1213.7,454.0 1212.2,460.3 1211.0,465.0 C1209.8,469.7 1208.9,472.7 1208.0,477.0 C1207.1,481.3 1205.9,486.7 1205.6,491.0 C1205.3,495.3 1205.8,500.5 1206.0,503.0 C1206.2,505.5 1206.8,505.5 1207.0,506.0 C1206.7,507.5 1205.3,511.5 1205.0,515.0 C1204.7,518.5 1204.7,523.0 1205.0,527.0 C1205.3,531.0 1206.1,535.0 1207.0,539.0 C1207.9,543.0 1209.8,549.0 1210.4,551.0 C1210.3,553.3 1210.0,559.5 1209.6,565.0 C1209.2,570.5 1208.3,580.8 1208.0,584.0" fill="none" stroke="#FF00FF" stroke-width="3.4" stroke-linejoin="round" stroke-linecap="round"/></g>
<rect x="1079.8" y="361.4" width="280.2" height="228.2" fill="none" stroke="#000" stroke-width="2.2"/>
<text transform="translate(1160.02 387.75) scale(1.0670 1)" x="-0.8 12.24 24.71 37.91 44.79 57.03 64.26 76.71 83.78 89.83 104.66" y="0" font-size="22.58" fill="#000" xml:space="preserve">Theta-e [K]</text>
<line x1="1337.2" y1="384.3" x2="1359" y2="384.3" stroke="#444" stroke-width="1.3"/>
<text transform="translate(1308.87 379) scale(1.0916 1)" x="-0.06 10.58 15.91 25.65" y="0" font-size="19.29" fill="#000" xml:space="preserve">7 km</text>
<line x1="1337.2" y1="412.9" x2="1359" y2="412.9" stroke="#444" stroke-width="1.3"/>
<text transform="translate(1308.87 407.6) scale(1.0916 1)" x="-0.06 10.58 15.91 25.65" y="0" font-size="19.29" fill="#000" xml:space="preserve">6 km</text>
<line x1="1337.2" y1="441.5" x2="1359" y2="441.5" stroke="#444" stroke-width="1.3"/>
<text transform="translate(1308.87 436.2) scale(1.0916 1)" x="-0.06 10.58 15.91 25.65" y="0" font-size="19.29" fill="#000" xml:space="preserve">5 km</text>
<line x1="1337.2" y1="470.1" x2="1359" y2="470.1" stroke="#444" stroke-width="1.3"/>
<text transform="translate(1308.87 464.8) scale(1.0916 1)" x="-0.06 10.58 15.91 25.65" y="0" font-size="19.29" fill="#000" xml:space="preserve">4 km</text>
<line x1="1337.2" y1="498.7" x2="1359" y2="498.7" stroke="#444" stroke-width="1.3"/>
<text transform="translate(1308.87 493.4) scale(1.0916 1)" x="-0.06 10.58 15.91 25.65" y="0" font-size="19.29" fill="#000" xml:space="preserve">3 km</text>
<line x1="1337.2" y1="527.3" x2="1359" y2="527.3" stroke="#444" stroke-width="1.3"/>
<text transform="translate(1308.87 522) scale(1.0916 1)" x="-0.06 10.58 15.91 25.65" y="0" font-size="19.29" fill="#000" xml:space="preserve">2 km</text>
<line x1="1337.2" y1="555.9" x2="1359" y2="555.9" stroke="#444" stroke-width="1.3"/>
<text transform="translate(1308.87 550.6) scale(1.0916 1)" x="-0.06 10.58 15.91 25.65" y="0" font-size="19.29" fill="#000" xml:space="preserve">1 km</text>
<line x1="1337.2" y1="584.5" x2="1359" y2="584.5" stroke="#444" stroke-width="1.3"/>
<text transform="translate(1326.1 579.2) scale(1.0505 1)" x="-0.31 9.4 15.07" y="0" font-size="19.29" fill="#000" xml:space="preserve">sfc</text>
<line x1="1089.9" y1="590.5" x2="1089.9" y2="599.2" stroke="#555" stroke-width="1.3"/>
<text transform="translate(1072.15 612.4) scale(1.0792 1)" x="0 10.97 21.93" y="0" font-size="19.72" fill="#000" xml:space="preserve">245</text>
<line x1="1136.2" y1="590.5" x2="1136.2" y2="599.2" stroke="#555" stroke-width="1.3"/>
<line x1="1182.5" y1="590.5" x2="1182.5" y2="599.2" stroke="#555" stroke-width="1.3"/>
<text transform="translate(1164.75 612.4) scale(1.0792 1)" x="0 10.97 21.93" y="0" font-size="19.72" fill="#000" xml:space="preserve">295</text>
<line x1="1228.8" y1="590.5" x2="1228.8" y2="599.2" stroke="#555" stroke-width="1.3"/>
<line x1="1275.1" y1="590.5" x2="1275.1" y2="599.2" stroke="#555" stroke-width="1.3"/>
<text transform="translate(1257.35 612.4) scale(1.0792 1)" x="0 10.97 21.93" y="0" font-size="19.72" fill="#000" xml:space="preserve">345</text>
<line x1="1321.4" y1="590.5" x2="1321.4" y2="599.2" stroke="#555" stroke-width="1.3"/>
<defs><clipPath id="cph"><rect x="1379.7" y="98.8" width="601.0" height="513.6"/></clipPath></defs>
<g clip-path="url(#cph)"><circle cx="1680.3" cy="355.5" r="39.5" fill="none" stroke="#CCCCCC" stroke-width="1.6" stroke-dasharray="4 4"/>
<circle cx="1680.3" cy="355.5" r="79" fill="none" stroke="#C8C8C8" stroke-width="2"/>
<circle cx="1680.3" cy="355.5" r="118.5" fill="none" stroke="#CCCCCC" stroke-width="1.6" stroke-dasharray="4 4"/>
<circle cx="1680.3" cy="355.5" r="158" fill="none" stroke="#C8C8C8" stroke-width="2"/>
<circle cx="1680.3" cy="355.5" r="197.5" fill="none" stroke="#CCCCCC" stroke-width="1.6" stroke-dasharray="4 4"/>
<circle cx="1680.3" cy="355.5" r="237" fill="none" stroke="#C8C8C8" stroke-width="2"/>
<circle cx="1680.3" cy="355.5" r="276.5" fill="none" stroke="#CCCCCC" stroke-width="1.6" stroke-dasharray="4 4"/>
<circle cx="1680.3" cy="355.5" r="316" fill="none" stroke="#C8C8C8" stroke-width="2"/>
<circle cx="1680.3" cy="355.5" r="355.5" fill="none" stroke="#CCCCCC" stroke-width="1.6" stroke-dasharray="4 4"/>
<circle cx="1680.3" cy="355.5" r="395" fill="none" stroke="#C8C8C8" stroke-width="2"/>
<circle cx="1680.3" cy="355.5" r="434.5" fill="none" stroke="#CCCCCC" stroke-width="1.6" stroke-dasharray="4 4"/>
<circle cx="1680.3" cy="355.5" r="474" fill="none" stroke="#C8C8C8" stroke-width="2"/>
<circle cx="1680.3" cy="355.5" r="513.5" fill="none" stroke="#CCCCCC" stroke-width="1.6" stroke-dasharray="4 4"/>
<circle cx="1680.3" cy="355.5" r="553" fill="none" stroke="#C8C8C8" stroke-width="2"/>
<circle cx="1680.3" cy="355.5" r="592.5" fill="none" stroke="#CCCCCC" stroke-width="1.6" stroke-dasharray="4 4"/>
<circle cx="1680.3" cy="355.5" r="632" fill="none" stroke="#C8C8C8" stroke-width="2"/>
<circle cx="1680.3" cy="355.5" r="671.5" fill="none" stroke="#CCCCCC" stroke-width="1.6" stroke-dasharray="4 4"/>
<circle cx="1680.3" cy="355.5" r="711" fill="none" stroke="#C8C8C8" stroke-width="2"/>
<circle cx="1680.3" cy="355.5" r="750.5" fill="none" stroke="#CCCCCC" stroke-width="1.6" stroke-dasharray="4 4"/>
<line x1="1379.7" y1="355.5" x2="1980.7" y2="355.5" stroke="#666" stroke-width="2"/>
<line x1="1680.3" y1="98.8" x2="1680.3" y2="612.4" stroke="#666" stroke-width="2"/></g>
<text transform="translate(1610.99 306.3) scale(1.0792 1)" x="0 12.79" y="0" font-size="23" fill="#333" xml:space="preserve">10</text>
<text transform="translate(1555.79 249.4) scale(1.0792 1)" x="0 12.79" y="0" font-size="23" fill="#333" xml:space="preserve">20</text>
<text transform="translate(1500.59 191.9) scale(1.0792 1)" x="0 12.79" y="0" font-size="23" fill="#333" xml:space="preserve">30</text>
<text transform="translate(1445.79 135.4) scale(1.0792 1)" x="0 12.79" y="0" font-size="23" fill="#333" xml:space="preserve">40</text>
<text transform="translate(1908.3 136.6) scale(1.1375 1)" x="0.58 7.91 28.8 35.03 47.47" y="0" font-size="25.44" fill="#333" xml:space="preserve">[m/s]</text>
<polyline points="1680.3,355.5 1821.5,362.9" fill="none" stroke="#AAAAAA" stroke-width="4" stroke-linecap="round"/>
<polyline points="1800.0,370.8 1818.3,366.7" fill="none" stroke="#AAAAAA" stroke-width="3.5" stroke-linecap="round"/>
<polyline points="1701.7,345.8 1710.0,341.7 1720.0,333.3 1774.2,328.3 1800.0,352.5 1811.7,362.5" fill="none" stroke="#FF00FF" stroke-width="4.8" stroke-linejoin="round" stroke-linecap="round"/>
<polyline points="1813.0,364.0 1820.8,375.0 1835.0,375.8 1842.0,373.0" fill="none" stroke="#FF0000" stroke-width="4.8" stroke-linejoin="round" stroke-linecap="round"/>
<polyline points="1838.0,368.0 1815.0,357.5 1830.0,350.0 1838.0,345.0" fill="none" stroke="#FFA500" stroke-width="4.8" stroke-linejoin="round" stroke-linecap="round"/>
<polyline points="1840.0,343.0 1873.3,323.3 1883.3,324.2" fill="none" stroke="#FFFF00" stroke-width="4.8" stroke-linejoin="round" stroke-linecap="round"/>
<polyline points="1896.7,323.3 1914.2,317.5 1951.7,331.7" fill="none" stroke="#ADD8E6" stroke-width="4.8" stroke-linejoin="round" stroke-linecap="round"/>
<text transform="translate(1694.95 353.7) scale(1.1803 1)" x="0" y="0" font-size="23" font-weight="bold" fill="#000" xml:space="preserve">0</text>
<text transform="translate(1808.25 374.6) scale(1.1803 1)" x="0" y="0" font-size="23" font-weight="bold" fill="#000" xml:space="preserve">1</text>
<text transform="translate(1834.95 382.1) scale(1.1803 1)" x="0" y="0" font-size="23" font-weight="bold" fill="#000" xml:space="preserve">3</text>
<text transform="translate(1829.95 354.6) scale(1.1803 1)" x="0" y="0" font-size="23" font-weight="bold" fill="#000" xml:space="preserve">6</text>
<text transform="translate(1881.65 333.7) scale(1.1803 1)" x="0" y="0" font-size="23" font-weight="bold" fill="#000" xml:space="preserve">9</text>
<circle cx="1834.2" cy="305.8" r="13.3" fill="none" stroke="#AAAAAA" stroke-width="1.6"/>
<circle cx="1834.2" cy="305.8" r="5.6" fill="none" stroke="#000" stroke-width="1.9"/>
<text transform="translate(1821.14 287.5) scale(1.0665 1)" x="-0.4 9.96" y="0" font-size="16.96" font-weight="bold" fill="#AAAAAA" xml:space="preserve">LM</text>
<circle cx="1808.3" cy="421.7" r="13.3" fill="none" stroke="#AAAAAA" stroke-width="1.6"/>
<circle cx="1808.3" cy="421.7" r="5.6" fill="none" stroke="#000" stroke-width="1.9"/>
<text transform="translate(1794.18 451.7) scale(1.0708 1)" x="-0.37 11.88" y="0" font-size="16.96" font-weight="bold" fill="#AAAAAA" xml:space="preserve">RM</text>
<rect x="1379.7" y="98.8" width="601.0" height="513.6" fill="none" stroke="#000" stroke-width="2.2"/>
<text transform="translate(1394 532) scale(1.0806 1)" x="-0.8 10.97 23.53 31 37.57 45.23 64.34 77.07 89 94.31 107.05 120 126.58 132.96 145.74 158.51 171.29 177.87 184.44 190.82 203.6 216.38 222.76 235.54 242.13 261.68 267.74" y="0" font-size="23" fill="#000" xml:space="preserve">Left-moving: 252 / 20.5 m/s</text>
<text transform="translate(1394 563) scale(1.0815 1)" x="-1.3 13.48 20.35 33.17 41.32 60.11 67.76 86.85 100.12 107.49 112.57 125.07 138.01 144.58 150.95 163.71 176.48 189.25 195.82 202.39 208.76 221.53 234.3 240.67 253.45 260.02 279.56 285.61" y="0" font-size="23" fill="#000" xml:space="preserve">Storm-motion: 273 / 17.9 m/s</text>
<text transform="translate(1394 594.5) scale(1.0797 1)" x="-1.32 14.2 19.53 32.28 45.79 52.72 60.38 79.51 92.25 104.18 109.5 122.25 135.21 141.79 148.18 160.97 173.75 186.54 193.12 199.7 206.09 218.88 231.67 238.05 250.84 257.44 277 283.07" y="0" font-size="23" fill="#000" xml:space="preserve">Right-moving: 297 / 18.3 m/s</text>
<rect x="1080" y="623.8" width="900" height="500.29999999999995" fill="none" stroke="#000" stroke-width="2.2"/>
<line x1="1080" y1="784.6" x2="1980" y2="784.6" stroke="#000" stroke-width="2.2"/>
<line x1="1271.4" y1="784.6" x2="1271.4" y2="1124.1" stroke="#000" stroke-width="2.2"/>
<line x1="1584.1" y1="784.6" x2="1584.1" y2="990.5" stroke="#000" stroke-width="2.2"/>
<line x1="1769.3" y1="784.6" x2="1769.3" y2="990.5" stroke="#000" stroke-width="2.2"/>
<line x1="1271.4" y1="990.5" x2="1980" y2="990.5" stroke="#000" stroke-width="2.2"/>
<line x1="1529.9" y1="990.5" x2="1529.9" y2="1124.1" stroke="#000" stroke-width="2.2"/>
<line x1="1834.2" y1="990.5" x2="1834.2" y2="1124.1" stroke="#000" stroke-width="2.2"/>
<text transform="translate(1147 652.5) scale(0.9576 1)" x="0.19 19.36 25.88 40.62" y="0" font-size="22.61" fill="#000" xml:space="preserve">MIXR</text>
<text transform="translate(1147 673.6) scale(1.1440 1)" x="0.44 6.05 16.75 22.04 31.4 42.54" y="0" font-size="19.82" fill="#000" xml:space="preserve">[g/kg]</text>
<text transform="translate(1217.5 652.5) scale(0.9067 1)" x="0.05 16.93 32.07 46.6" y="0" font-size="22.61" fill="#000" xml:space="preserve">CAPE</text>
<text transform="translate(1217.5 673.6) scale(1.0367 1)" x="0.77 4.74 12.64 18.7 29.09 41.1" y="0" font-size="19.82" fill="#000" xml:space="preserve">[J/kg]</text>
<text transform="translate(1289 652.5) scale(0.9567 1)" x="-0.38 15.65 30 43.77 59.16 73.34" y="0" font-size="22.61" fill="#000" xml:space="preserve">CAPE03</text>
<text transform="translate(1289 673.6) scale(1.0367 1)" x="0.77 4.74 12.64 18.7 29.09 41.1" y="0" font-size="19.82" fill="#000" xml:space="preserve">[J/kg]</text>
<text transform="translate(1384.5 652.5) scale(0.9280 1)" x="-0.14 16.37 31.16 45.36 60.64 77.55 95.37" y="0" font-size="22.61" fill="#000" xml:space="preserve">CAPEHGL</text>
<text transform="translate(1384.5 673.6) scale(1.0367 1)" x="0.77 4.74 12.64 18.7 29.09 41.1" y="0" font-size="19.82" fill="#000" xml:space="preserve">[J/kg]</text>
<text transform="translate(1497.5 652.5) scale(0.9538 1)" x="-0.36 15.77 22.41" y="0" font-size="22.61" fill="#000" xml:space="preserve">CIN</text>
<text transform="translate(1497.5 673.6) scale(1.0367 1)" x="0.77 4.74 12.64 18.7 29.09 41.1" y="0" font-size="19.82" fill="#000" xml:space="preserve">[J/kg]</text>
<text transform="translate(1564 652.5) scale(0.9638 1)" x="-0.12 12.45" y="0" font-size="22.61" fill="#000" xml:space="preserve">LI</text>
<text transform="translate(1564 673.6) scale(1.1080 1)" x="0.54 5.51 18.19" y="0" font-size="19.82" fill="#000" xml:space="preserve">[K]</text>
<text transform="translate(1614 652.5) scale(0.9321 1)" x="0.09 12.57 28.82" y="0" font-size="22.61" fill="#000" xml:space="preserve">LCL</text>
<text transform="translate(1614 673.6) scale(1.1919 1)" x="0.31 5.51 21.71" y="0" font-size="19.82" fill="#000" xml:space="preserve">[m]</text>
<text transform="translate(1680.5 652.5) scale(0.9141 1)" x="0.21 12.8 26.4" y="0" font-size="22.61" fill="#000" xml:space="preserve">LFC</text>
<text transform="translate(1680.5 673.6) scale(1.1919 1)" x="0.31 5.51 21.71" y="0" font-size="19.82" fill="#000" xml:space="preserve">[m]</text>
<text transform="translate(1747 652.5) scale(0.9170 1)" x="-0.19 14.89" y="0" font-size="22.61" fill="#000" xml:space="preserve">EL</text>
<text transform="translate(1747 673.6) scale(1.1919 1)" x="0.31 5.51 21.71" y="0" font-size="19.82" fill="#000" xml:space="preserve">[m]</text>
<text transform="translate(1826.5 652.5) scale(0.9523 1)" x="0.4 22.39 41.59 56.93 71.71 86.61 102.73 117.47 132.29" y="0" font-size="22.61" fill="#000" xml:space="preserve">WMAXSHEAR</text>
<text transform="translate(1826.5 673.6) scale(1.1178 1)" x="0.51 6.42 22.63 33.53 38.51 47.63 58.98" y="0" font-size="19.82" fill="#000" xml:space="preserve">[m2/s2]</text>
<text transform="translate(1099.91 705.8) scale(0.9341 1)" x="-0.29 14.79" y="0" font-size="22.61" fill="#000" xml:space="preserve">SB</text>
<text transform="translate(1147 705.8) scale(1.0793 1)" x="-0 12.57 18.86" y="0" font-size="22.61" fill="#000" xml:space="preserve">7.9</text>
<text transform="translate(1217.5 705.8) scale(1.0792 1)" x="0" y="0" font-size="22.61" fill="#000" xml:space="preserve">0</text>
<text transform="translate(1289 705.8) scale(1.0792 1)" x="0" y="0" font-size="22.61" fill="#000" xml:space="preserve">0</text>
<text transform="translate(1384.5 705.8) scale(1.0792 1)" x="0" y="0" font-size="22.61" fill="#000" xml:space="preserve">0</text>
<text transform="translate(1497.5 705.8) scale(1.0792 1)" x="0" y="0" font-size="22.61" fill="#000" xml:space="preserve">0</text>
<text transform="translate(1564 705.8) scale(1.0792 1)" x="0" y="0" font-size="22.61" fill="#000" xml:space="preserve">6</text>
<text transform="translate(1614 705.8) scale(1.0792 1)" x="0 12.57 25.15" y="0" font-size="22.61" fill="#000" xml:space="preserve">130</text>
<text transform="translate(1680.5 705.8) scale(1.0792 1)" x="0" y="0" font-size="22.61" fill="#000" xml:space="preserve">0</text>
<text transform="translate(1747 705.8) scale(1.0792 1)" x="0" y="0" font-size="22.61" fill="#000" xml:space="preserve">0</text>
<text transform="translate(1826.5 705.8) scale(1.0792 1)" x="0" y="0" font-size="22.61" fill="#000" xml:space="preserve">0</text>
<text transform="translate(1885.5 705.8) scale(1.0301 1)" x="0.27 7.08 21.31 28.04 41.19" y="0" font-size="22.61" fill="#000" xml:space="preserve">(E 0)</text>
<text transform="translate(1096.99 738.7) scale(0.9674 1)" x="0.09 18.93" y="0" font-size="22.61" fill="#000" xml:space="preserve">MU</text>
<text transform="translate(1147 738.7) scale(1.0793 1)" x="-0 12.57 18.86" y="0" font-size="22.61" fill="#000" xml:space="preserve">6.4</text>
<text transform="translate(1217.5 738.7) scale(1.0792 1)" x="0" y="0" font-size="22.61" fill="#000" xml:space="preserve">0</text>
<text transform="translate(1289 738.7) scale(1.0792 1)" x="0" y="0" font-size="22.61" fill="#000" xml:space="preserve">0</text>
<text transform="translate(1384.5 738.7) scale(1.0792 1)" x="0" y="0" font-size="22.61" fill="#000" xml:space="preserve">0</text>
<text transform="translate(1497.5 738.7) scale(1.0792 1)" x="0" y="0" font-size="22.61" fill="#000" xml:space="preserve">0</text>
<text transform="translate(1564 738.7) scale(1.0792 1)" x="0" y="0" font-size="22.61" fill="#000" xml:space="preserve">5</text>
<text transform="translate(1614 738.7) scale(1.1165 1)" x="-0.21 11.95 24.1 36.26" y="0" font-size="22.61" fill="#000" xml:space="preserve">1170</text>
<text transform="translate(1680.5 738.7) scale(1.0792 1)" x="0" y="0" font-size="22.61" fill="#000" xml:space="preserve">0</text>
<text transform="translate(1747 738.7) scale(1.0792 1)" x="0" y="0" font-size="22.61" fill="#000" xml:space="preserve">0</text>
<text transform="translate(1826.5 738.7) scale(1.0792 1)" x="0" y="0" font-size="22.61" fill="#000" xml:space="preserve">0</text>
<text transform="translate(1885.5 738.7) scale(1.0301 1)" x="0.27 7.08 21.31 28.04 41.19" y="0" font-size="22.61" fill="#000" xml:space="preserve">(E 0)</text>
<text transform="translate(1098.86 771.9) scale(0.9643 1)" x="0.13 18.96" y="0" font-size="22.61" fill="#000" xml:space="preserve">ML</text>
<text transform="translate(1147 771.9) scale(1.0793 1)" x="-0 12.57 18.86" y="0" font-size="22.61" fill="#000" xml:space="preserve">7.5</text>
<text transform="translate(1217.5 771.9) scale(1.0792 1)" x="0" y="0" font-size="22.61" fill="#000" xml:space="preserve">0</text>
<text transform="translate(1289 771.9) scale(1.0792 1)" x="0" y="0" font-size="22.61" fill="#000" xml:space="preserve">0</text>
<text transform="translate(1384.5 771.9) scale(1.0792 1)" x="0" y="0" font-size="22.61" fill="#000" xml:space="preserve">0</text>
<text transform="translate(1497.5 771.9) scale(1.0792 1)" x="0" y="0" font-size="22.61" fill="#000" xml:space="preserve">0</text>
<text transform="translate(1564 771.9) scale(1.0792 1)" x="0" y="0" font-size="22.61" fill="#000" xml:space="preserve">6</text>
<text transform="translate(1614 771.9) scale(1.0792 1)" x="0 12.57 25.15" y="0" font-size="22.61" fill="#000" xml:space="preserve">410</text>
<text transform="translate(1680.5 771.9) scale(1.0792 1)" x="0" y="0" font-size="22.61" fill="#000" xml:space="preserve">0</text>
<text transform="translate(1747 771.9) scale(1.0792 1)" x="0" y="0" font-size="22.61" fill="#000" xml:space="preserve">0</text>
<text transform="translate(1826.5 771.9) scale(1.0792 1)" x="0" y="0" font-size="22.61" fill="#000" xml:space="preserve">0</text>
<text transform="translate(1885.5 771.9) scale(1.0301 1)" x="0.27 7.08 21.31 28.04 41.19" y="0" font-size="22.61" fill="#000" xml:space="preserve">(E 0)</text>
<text transform="translate(1083.5 812) scale(1.0652 1)" x="-0.67 13.8 26.7 32.14 43.63 49.98 66.6 71.95 84.65 97.34 103.22 114.15 126.66 138.95 151.72" y="0" font-size="22.61" fill="#000" xml:space="preserve">Bulk wind shear</text>
<text transform="translate(1207.15 833.4) scale(1.1375 1)" x="0.45 6.16 22.44 27.29 36.98" y="0" font-size="19.82" fill="#000" xml:space="preserve">[m/s]</text>
<text transform="translate(1090.8 864.6) scale(1.0617 1)" x="-1.16 13.15 19.7 30.92 37.12 44.56 51 63.73 70.23 82.07 101.51" y="0" font-size="22.61" fill="#000" xml:space="preserve">Sfc - 1 km:</text>
<text transform="translate(1212.8 864.6) scale(1.0793 1)" x="-0 12.57 25.15 31.43" y="0" font-size="22.61" fill="#000" xml:space="preserve">14.6</text>
<text transform="translate(1090.8 899.5) scale(1.0617 1)" x="-1.16 13.15 19.7 30.92 37.12 44.56 51 63.73 70.23 82.07 101.51" y="0" font-size="22.61" fill="#000" xml:space="preserve">Sfc - 3 km:</text>
<text transform="translate(1212.8 899.5) scale(1.0793 1)" x="-0 12.57 25.15 31.43" y="0" font-size="22.61" fill="#000" xml:space="preserve">18.2</text>
<text transform="translate(1090.8 934.4) scale(1.0617 1)" x="-1.16 13.15 19.7 30.92 37.12 44.56 51 63.73 70.23 82.07 101.51" y="0" font-size="22.61" fill="#000" xml:space="preserve">Sfc - 6 km:</text>
<text transform="translate(1212.8 934.4) scale(1.0793 1)" x="-0 12.57 25.15 31.43" y="0" font-size="22.61" fill="#000" xml:space="preserve">17.1</text>
<text transform="translate(1090.8 969.3) scale(1.0617 1)" x="-1.16 13.15 19.7 30.92 37.12 44.56 51 63.73 70.23 82.07 101.51" y="0" font-size="22.61" fill="#000" xml:space="preserve">Sfc - 8 km:</text>
<text transform="translate(1212.8 969.3) scale(1.0793 1)" x="-0 12.57 25.15 31.43" y="0" font-size="22.61" fill="#000" xml:space="preserve">22.8</text>
<text transform="translate(1099.83 1004.2) scale(1.0013 1)" x="-0.78 14.13 21.22 32.98 39.58 47.44 53.81 69.44 86.13 98.8" y="0" font-size="22.61" fill="#000" xml:space="preserve">Sfc - HGL:</text>
<text transform="translate(1212.8 1004.2) scale(1.0793 1)" x="-0 12.57 25.15 31.43" y="0" font-size="22.61" fill="#000" xml:space="preserve">16.1</text>
<text transform="translate(1086.91 1039.1) scale(1.0296 1)" x="-1 13.6 20.89 27.45 40.15 51.65 58.24 64.95 71.79 85.47 100.39 108.55" y="0" font-size="22.61" fill="#000" xml:space="preserve">Effec. (SB):</text>
<text transform="translate(1212.8 1039.1) scale(1.0793 1)" x="-0 12.57 18.86" y="0" font-size="22.61" fill="#000" xml:space="preserve">0.0</text>
<text transform="translate(1081.07 1074) scale(1.0353 1)" x="-1.03 13.5 20.76 27.26 39.9 51.35 57.9 64.56 71.82 89.5 105.46 113.57" y="0" font-size="22.61" fill="#000" xml:space="preserve">Effec. (MU):</text>
<text transform="translate(1212.8 1074) scale(1.0793 1)" x="-0 12.57 18.86" y="0" font-size="22.61" fill="#000" xml:space="preserve">0.0</text>
<text transform="translate(1084.8 1108.9) scale(1.0367 1)" x="-1.04 13.48 20.72 27.22 39.84 51.28 57.82 64.48 71.71 89.45 101.72 109.82" y="0" font-size="22.61" fill="#000" xml:space="preserve">Effec. (ML):</text>
<text transform="translate(1212.8 1108.9) scale(1.0793 1)" x="-0 12.57 18.86" y="0" font-size="22.61" fill="#000" xml:space="preserve">0.0</text>
<text transform="translate(1393.1 812) scale(0.9464 1)" x="-0.39 13.97 30.27 47.35 53.74 70.04" y="0" font-size="22.61" fill="#000" xml:space="preserve">SRH RM</text>
<text transform="translate(1490.53 812) scale(0.9536 1)" x="-0.44 13.8 29.98 46.97 53.61 66.36" y="0" font-size="22.61" fill="#000" xml:space="preserve">SRH LM</text>
<text transform="translate(1404.85 833.4) scale(1.1178 1)" x="0.51 6.42 22.63 33.53 38.51 47.63 58.98" y="0" font-size="19.82" fill="#000" xml:space="preserve">[m2/s2]</text>
<text transform="translate(1499.35 833.4) scale(1.1178 1)" x="0.51 6.42 22.63 33.53 38.51 47.63 58.98" y="0" font-size="19.82" fill="#000" xml:space="preserve">[m2/s2]</text>
<text transform="translate(1271.51 864.6) scale(1.0624 1)" x="-1.17 13.14 19.68 30.9 37.09 44.53 50.96 63.73 76.5 89.23 95.92 115.36" y="0" font-size="22.61" fill="#000" xml:space="preserve">Sfc - 100 m:</text>
<text transform="translate(1413 864.6) scale(1.0792 1)" x="0 12.57" y="0" font-size="22.61" fill="#000" xml:space="preserve">62</text>
<text transform="translate(1506 864.6) scale(1.0792 1)" x="0" y="0" font-size="22.61" fill="#000" xml:space="preserve">6</text>
<text transform="translate(1271.51 899.5) scale(1.0624 1)" x="-1.17 13.14 19.68 30.9 37.09 44.53 50.96 63.73 76.5 89.23 95.92 115.36" y="0" font-size="22.61" fill="#000" xml:space="preserve">Sfc - 500 m:</text>
<text transform="translate(1413 899.5) scale(1.0792 1)" x="0 12.57 25.15" y="0" font-size="22.61" fill="#000" xml:space="preserve">135</text>
<text transform="translate(1506 899.5) scale(1.0661 1)" x="-0.15 7.3 20.03" y="0" font-size="22.61" fill="#000" xml:space="preserve">-24</text>
<text transform="translate(1286.3 934.4) scale(1.0617 1)" x="-1.16 13.15 19.7 30.92 37.12 44.56 51 63.73 70.23 82.07 101.51" y="0" font-size="22.61" fill="#000" xml:space="preserve">Sfc - 1 km:</text>
<text transform="translate(1413 934.4) scale(1.0792 1)" x="0 12.57 25.15" y="0" font-size="22.61" fill="#000" xml:space="preserve">162</text>
<text transform="translate(1506 934.4) scale(1.0661 1)" x="-0.15 7.3 20.03" y="0" font-size="22.61" fill="#000" xml:space="preserve">-58</text>
<text transform="translate(1286.3 969.3) scale(1.0617 1)" x="-1.16 13.15 19.7 30.92 37.12 44.56 51 63.73 70.23 82.07 101.51" y="0" font-size="22.61" fill="#000" xml:space="preserve">Sfc - 3 km:</text>
<text transform="translate(1413 969.3) scale(1.0792 1)" x="0 12.57 25.15" y="0" font-size="22.61" fill="#000" xml:space="preserve">183</text>
<text transform="translate(1506 969.3) scale(1.0661 1)" x="-0.15 7.3 20.03" y="0" font-size="22.61" fill="#000" xml:space="preserve">-90</text>
<text transform="translate(1639.17 812) scale(1.0547 1)" x="-0.69 17.38 29.8 42.4 55.17 61.63 78.37 83.81 96.63" y="0" font-size="22.61" fill="#000" xml:space="preserve">Mean wind</text>
<text transform="translate(1705.65 833.4) scale(1.1375 1)" x="0.45 6.16 22.44 27.29 36.98" y="0" font-size="19.82" fill="#000" xml:space="preserve">[m/s]</text>
<text transform="translate(1591.6 864.6) scale(1.0617 1)" x="-1.16 13.15 19.7 30.92 37.12 44.56 51 63.73 70.23 82.07 101.51" y="0" font-size="22.61" fill="#000" xml:space="preserve">Sfc - 1 km:</text>
<text transform="translate(1713 864.6) scale(1.0793 1)" x="-0 12.57 25.15 31.43" y="0" font-size="22.61" fill="#000" xml:space="preserve">12.5</text>
<text transform="translate(1591.6 899.5) scale(1.0617 1)" x="-1.16 13.15 19.7 30.92 37.12 44.56 51 63.73 70.23 82.07 101.51" y="0" font-size="22.61" fill="#000" xml:space="preserve">Sfc - 2 km:</text>
<text transform="translate(1713 899.5) scale(1.0793 1)" x="-0 12.57 25.15 31.43" y="0" font-size="22.61" fill="#000" xml:space="preserve">15.3</text>
<text transform="translate(1610.8 934.4) scale(1.0859 1)" x="-0.04 12.48 18.52 25.81 32.04 44.55 50.85 62.34 81.49" y="0" font-size="22.61" fill="#000" xml:space="preserve">1 - 3 km:</text>
<text transform="translate(1713 934.4) scale(1.0793 1)" x="-0 12.57 25.15 31.43" y="0" font-size="22.61" fill="#000" xml:space="preserve">19.7</text>
<text transform="translate(1591.6 969.3) scale(1.0617 1)" x="-1.16 13.15 19.7 30.92 37.12 44.56 51 63.73 70.23 82.07 101.51" y="0" font-size="22.61" fill="#000" xml:space="preserve">Sfc - 6 km:</text>
<text transform="translate(1713 969.3) scale(1.0793 1)" x="-0 12.57 25.15 31.43" y="0" font-size="22.61" fill="#000" xml:space="preserve">17.9</text>
<text transform="translate(1854.66 812) scale(1.0561 1)" x="-0.66 11.15 23.75 36.06 46.9 59.47 66.21 74.02 87.32 94.34" y="0" font-size="22.61" fill="#000" xml:space="preserve">Lapse rate</text>
<text transform="translate(1905.3 833.4) scale(1.1074 1)" x="0.54 5.51 17.75 23.28 33.1 50.12" y="0" font-size="19.82" fill="#000" xml:space="preserve">[K/km]</text>
<text transform="translate(1791.3 864.6) scale(1.0617 1)" x="-1.16 13.15 19.7 30.92 37.12 44.56 51 63.73 70.23 82.07 101.51" y="0" font-size="22.61" fill="#000" xml:space="preserve">Sfc - 1 km:</text>
<text transform="translate(1913.8 864.6) scale(1.0793 1)" x="-0 12.57 18.86" y="0" font-size="22.61" fill="#000" xml:space="preserve">5.1</text>
<text transform="translate(1791.3 899.5) scale(1.0617 1)" x="-1.16 13.15 19.7 30.92 37.12 44.56 51 63.73 70.23 82.07 101.51" y="0" font-size="22.61" fill="#000" xml:space="preserve">Sfc - 3 km:</text>
<text transform="translate(1913.8 899.5) scale(1.0793 1)" x="-0 12.57 18.86" y="0" font-size="22.61" fill="#000" xml:space="preserve">4.4</text>
<text transform="translate(1810.5 934.4) scale(1.0859 1)" x="-0.04 12.48 18.52 25.81 32.04 44.55 50.85 62.34 81.49" y="0" font-size="22.61" fill="#000" xml:space="preserve">3 - 6 km:</text>
<text transform="translate(1913.8 934.4) scale(1.0793 1)" x="-0 12.57 18.86" y="0" font-size="22.61" fill="#000" xml:space="preserve">6.2</text>
<text transform="translate(1772.11 969.3) scale(1.0440 1)" x="0.21 13.21 26.21 39.21 52.21 65.21 78.1 84.67 96.05 109.73 121.66" y="0" font-size="22.61" fill="#000" xml:space="preserve">500700 hPa:</text>
<text transform="translate(1913.8 969.3) scale(1.0793 1)" x="-0 12.57 18.86" y="0" font-size="22.61" fill="#000" xml:space="preserve">6.1</text>
<text transform="translate(1261.97 1029.4) scale(1.0856 1)" x="-1.62 12.12 19.34 30.99 42.26 47.45 59.95 66.2 72.33 88.26 101.28 108.03 120.64 128.42 135.38 142.51 161.65 181.32 188.47 194.9 201.13 213.63" y="0" font-size="22.61" fill="#000" xml:space="preserve">Precip. water [mm]: 19</text>
<text transform="translate(1296.75 1065.85) scale(1.0684 1)" x="0.06 12.73 18.89 26.29 32.66 45.33 51.78 63.52 82.69 87.78 102.22 117.92 124.99 131.46 151.75 159.01 165.54 171.92 184.62" y="0" font-size="22.61" fill="#000" xml:space="preserve">2 - 5 km RH [%]: 39</text>
<text transform="translate(1277.54 1102.3) scale(1.0580 1)" x="-1.14 13.21 19.79 31.04 37.26 44.73 51.2 63.96 70.49 82.39 101.69 106.87 121.46 137.26 144.4 151 171.42 178.75 185.35 191.83 204.65" y="0" font-size="22.61" fill="#000" xml:space="preserve">Sfc - 2 km RH [%]: 89</text>
<text transform="translate(1521.36 1029.4) scale(1.0950 1)" x="-1.01 16.48 28.92 33.56 44.97 51.81 64.51 71.99 83.79 90.32 97.08 102.19 114.76 126.13 133.03 139.86 152.47 158.32 169.19 175.68 194.49 207.64 214.72" y="0" font-size="22.61" fill="#000" xml:space="preserve">Moisture flux [g/s/m2]:</text>
<text transform="translate(1771.5 1029.4) scale(1.0792 1)" x="0 12.57" y="0" font-size="22.61" fill="#000" xml:space="preserve">96</text>
<text transform="translate(1561.01 1065.85) scale(1.0136 1)" x="0.41 13.59 20.52 33.1 52.97 59.39 74.84 90.01 103.55 116.54 130.93 138.38 143.08 152.24 159.37 171.5 185.43 193.08" y="0" font-size="22.61" fill="#000" xml:space="preserve">4 km DCAPE [J/kg]:</text>
<text transform="translate(1771.5 1065.85) scale(1.0792 1)" x="0 12.57 25.15" y="0" font-size="22.61" fill="#000" xml:space="preserve">199</text>
<text transform="translate(1520.58 1102.3) scale(1.0983 1)" x="-0.11 12.3 18.5 29.82 48.64 54.75 66.88 79.33 85.21 91.82 104 110.9 117.71 129.84 142.77 149.38 161.36 168.32 180.52 187.4 193.16 207.71 214.77" y="0" font-size="22.61" fill="#000" xml:space="preserve">4 km delta theta-e [K]:</text>
<text transform="translate(1771.5 1102.3) scale(1.0579 1)" x="-0.13 7.4" y="0" font-size="22.61" fill="#000" xml:space="preserve">-3</text>
<text transform="translate(1855.38 1029.4) scale(0.9985 1)" x="-0.76 13.43 29.63 34.82 49.26 56.26 63.3 76.64 83.68" y="0" font-size="22.61" fill="#000" xml:space="preserve">SHIP: 0.0</text>
<text transform="translate(1862.82 1065.85) scale(0.9856 1)" x="-0.67 13.13 27.83 42.4 49.49 56.66 70.13 77.31" y="0" font-size="22.61" fill="#000" xml:space="preserve">SCP: 0.0</text>
<text transform="translate(1864.68 1102.3) scale(0.9927 1)" x="-0.72 13.3 25.7 40.2 47.24 54.34 67.74 74.84" y="0" font-size="22.61" fill="#000" xml:space="preserve">STP: 0.0</text>
<text transform="translate(1190.5 1163.25) scale(1.1116 1)" x="0.89 9.81 24.54 39.27 54.04 69.13 82.08" y="0" font-size="24.38" font-weight="bold" fill="#000" xml:space="preserve">thundeR</text>
<text transform="translate(1303.39 1163.25) scale(1.0684 1)" x="0.03 6.68 14.68 21.87 30.19 43.59 61.52 67.27 80.41 91.95 105.38 119.07 132.55 146.02 152.89 166.9 175.21 187.95 199.83 212.77 224.01 236.03 241.78 255.46 269.14 276.8 284.23 297.42 311.1 316.85 324.07 331.07 344.83 353.37 358.86 375.22 382.31 394.88 408.57 415.46 429.15 436.04 449.73 456.7 465.04 478.77 492.49 506.22 520.02" y="0" font-size="24.43" fill="#000" xml:space="preserve"> - rawinsonde processing tool for R v1.1.1 (2023)</text>
</svg></body></html>
